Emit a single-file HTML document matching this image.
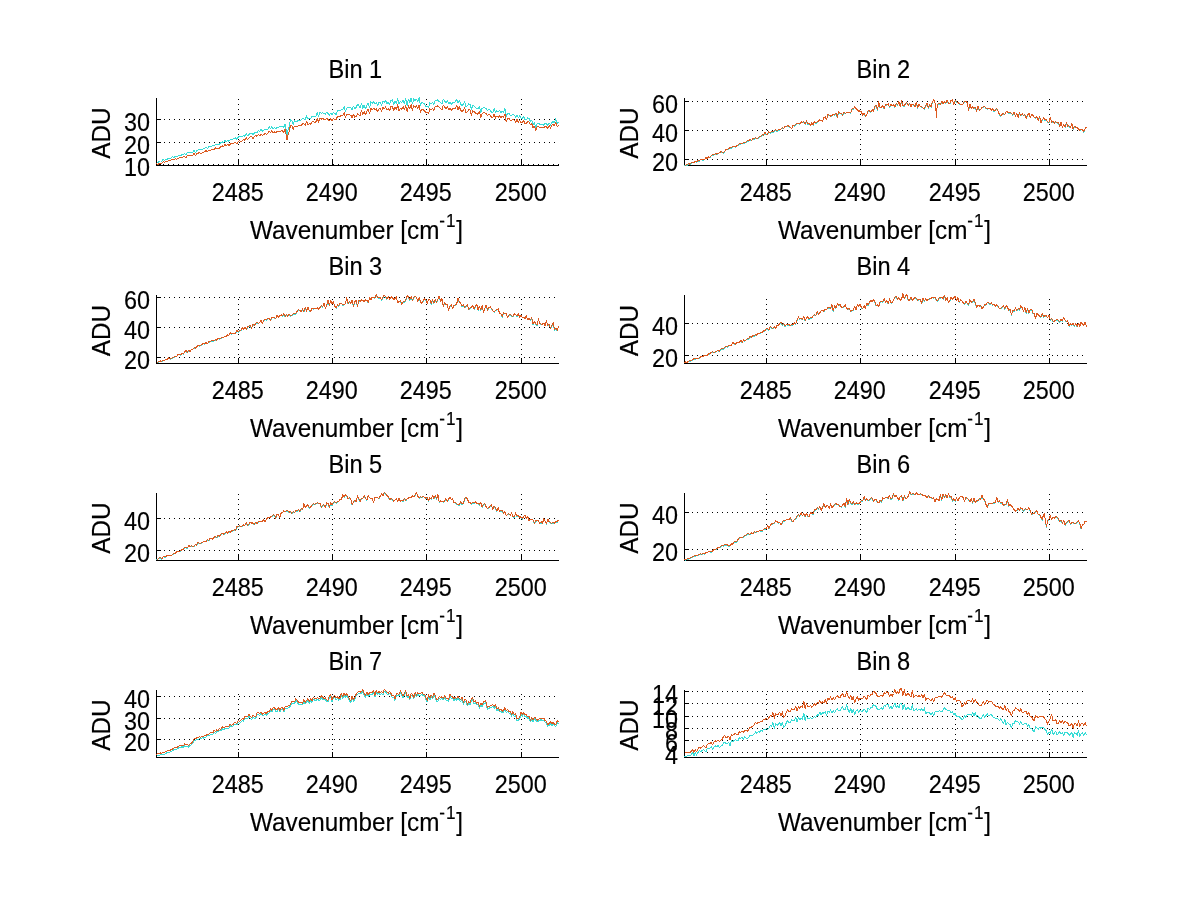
<!DOCTYPE html>
<html lang="en"><head><meta charset="utf-8"><title>Bin spectra</title>
<style>html,body{margin:0;padding:0;background:#fff}svg{display:block}text{font-family:"Liberation Sans",Arial,Helvetica,sans-serif;fill:#000}.t{font-size:24px;stroke:#000;stroke-width:0.15px}.ax{stroke:#000;stroke-width:1;fill:none;shape-rendering:crispEdges}.gr{stroke:#000;stroke-width:1;fill:none;stroke-dasharray:1 4;shape-rendering:crispEdges}.c{fill:none;stroke-width:1;stroke-linejoin:round;shape-rendering:crispEdges}</style></head><body>
<svg width="1200" height="901" viewBox="0 0 1200 901">
<rect x="0" y="0" width="1200" height="901" fill="#fff"/>
<g id="bin1">
<line class="gr" x1="238.5" y1="99" x2="238.5" y2="165"/>
<line class="gr" x1="332.5" y1="99" x2="332.5" y2="165"/>
<line class="gr" x1="426.5" y1="99" x2="426.5" y2="165"/>
<line class="gr" x1="521.5" y1="99" x2="521.5" y2="165"/>
<line class="gr" x1="159" y1="119.5" x2="559" y2="119.5"/>
<line class="gr" x1="159" y1="142.5" x2="559" y2="142.5"/>
<line class="gr" x1="158" y1="164.5" x2="559" y2="164.5"/>
<path class="ax" d="M156.5 98 V166 M156 165.5 H559"/>
<path class="ax" d="M238.5 166 v-6 M332.5 166 v-6 M426.5 166 v-6 M521.5 166 v-6 M156 119.5 h5 M156 142.5 h5 M156 164.5 h5"/>
<path class="c" stroke="#38dcd6" d="M156.5 161.6 L157.8 162.6 L159.2 161.1 L160.5 161.0 L161.9 161.0 L163.2 159.3 L164.5 160.3 L165.9 159.5 L167.2 159.3 L168.6 158.1 L169.9 158.8 L171.2 157.8 L172.6 156.8 L173.9 157.5 L175.3 156.2 L176.6 156.7 L177.9 156.1 L179.3 155.2 L180.6 155.2 L182.0 154.9 L183.3 154.1 L184.6 153.9 L186.0 154.7 L187.3 152.7 L188.7 152.9 L190.0 152.1 L191.3 152.6 L192.7 152.4 L194.0 150.5 L195.4 152.6 L196.7 150.7 L198.0 150.2 L199.4 149.3 L200.7 149.9 L202.1 149.8 L203.4 148.8 L204.7 148.2 L206.1 147.3 L207.4 148.6 L208.8 146.7 L210.1 147.0 L211.4 146.3 L212.8 145.9 L214.1 145.8 L215.5 144.2 L216.8 144.9 L218.1 144.2 L219.5 144.2 L220.8 142.9 L222.2 141.8 L223.5 142.9 L224.8 140.4 L226.2 141.9 L227.5 140.1 L228.9 141.3 L230.2 140.1 L231.5 139.4 L232.9 139.2 L234.2 138.6 L235.6 138.0 L236.9 139.6 L238.2 137.2 L239.6 136.4 L240.9 137.1 L242.3 136.5 L243.6 135.1 L244.9 136.3 L246.3 133.5 L247.6 135.8 L249.0 134.4 L250.3 133.3 L251.6 133.1 L253.0 134.9 L254.3 133.2 L255.7 132.0 L257.0 132.4 L258.3 130.4 L259.7 131.7 L261.0 129.2 L262.4 131.1 L263.7 130.1 L265.0 129.2 L266.4 130.0 L267.7 129.6 L269.1 126.7 L270.4 128.8 L271.7 126.8 L273.1 128.5 L274.4 127.6 L275.8 128.9 L277.1 127.0 L278.4 127.2 L279.8 126.5 L281.1 126.1 L282.5 126.1 L283.8 127.6 L285.1 124.1 L287.0 134.6 L287.8 130.3 L289.2 126.1 L290.5 120.0 L291.8 120.6 L293.2 124.5 L294.5 121.0 L295.9 121.6 L297.2 121.1 L298.5 120.6 L299.9 120.2 L301.2 120.1 L302.6 118.1 L303.9 118.6 L305.2 120.0 L306.6 115.7 L307.9 118.9 L309.3 118.2 L310.6 118.7 L311.9 116.1 L313.3 116.0 L314.6 116.7 L316.0 116.1 L317.3 112.4 L318.6 116.7 L320.0 112.1 L321.3 113.4 L322.7 112.5 L324.0 113.6 L325.3 114.1 L326.7 112.3 L328.0 113.7 L329.4 115.1 L330.7 113.2 L332.0 115.0 L333.4 112.7 L334.7 113.6 L336.1 114.3 L337.4 110.8 L338.7 110.8 L340.1 110.6 L341.4 109.5 L342.8 109.8 L344.1 106.7 L345.4 111.3 L346.8 108.3 L348.1 107.4 L349.5 107.7 L350.8 107.6 L352.1 109.7 L353.5 106.2 L354.8 108.5 L356.2 107.2 L357.5 104.3 L358.8 105.4 L360.2 108.1 L361.5 103.8 L362.9 108.3 L364.2 105.0 L365.5 108.9 L366.9 105.2 L368.2 103.0 L369.6 107.8 L370.9 101.7 L372.2 103.3 L373.6 101.9 L374.9 103.6 L376.3 102.6 L377.6 105.6 L378.9 102.6 L380.3 102.5 L381.6 105.3 L383.0 100.7 L384.3 102.6 L385.6 100.5 L387.0 103.5 L388.3 102.4 L389.7 104.4 L391.0 100.2 L392.3 99.8 L393.7 104.5 L395.0 101.2 L396.4 103.5 L397.7 98.2 L399.0 104.2 L400.4 101.6 L401.7 102.8 L403.1 100.1 L404.4 103.5 L405.7 98.4 L407.1 105.4 L408.4 99.2 L409.8 102.2 L411.1 97.8 L412.4 103.9 L413.8 98.9 L415.1 100.6 L416.5 99.1 L417.8 101.6 L419.1 97.6 L420.5 105.5 L421.8 102.2 L423.2 103.0 L424.5 104.0 L425.8 106.7 L427.2 105.9 L428.5 107.4 L429.9 102.7 L431.2 103.8 L432.5 102.1 L433.9 104.4 L435.2 100.3 L436.6 101.0 L437.9 99.7 L439.2 101.7 L440.6 102.4 L441.9 104.2 L443.3 99.0 L444.6 100.8 L445.9 102.7 L447.3 100.3 L448.6 104.0 L450.0 102.5 L451.3 104.2 L452.6 102.8 L454.0 102.8 L455.3 102.0 L456.7 99.1 L458.0 103.4 L459.3 100.4 L460.7 104.1 L462.0 105.6 L463.4 104.2 L464.7 101.5 L466.0 107.2 L467.4 105.9 L468.7 103.8 L470.1 104.2 L471.4 109.8 L472.7 105.1 L474.1 105.9 L475.4 107.8 L476.8 108.6 L478.1 108.8 L479.4 106.7 L480.8 112.4 L482.1 108.2 L483.5 107.8 L484.8 107.7 L486.1 108.6 L487.5 110.6 L488.8 109.2 L490.2 110.0 L491.5 112.2 L492.8 112.4 L494.2 108.7 L495.5 113.0 L496.9 110.8 L498.2 112.0 L499.5 110.5 L500.9 112.4 L502.2 111.3 L503.6 112.3 L504.9 108.6 L506.2 116.5 L507.6 113.2 L508.9 113.0 L510.3 115.7 L511.6 115.5 L512.9 114.1 L514.3 115.0 L515.6 117.3 L517.0 114.8 L518.3 118.0 L519.6 115.7 L521.0 118.0 L522.3 118.7 L523.7 116.3 L525.0 120.0 L526.3 119.7 L527.7 117.7 L529.0 118.5 L530.4 121.2 L531.7 120.2 L533.0 124.7 L534.4 122.9 L535.7 127.8 L537.1 123.8 L538.4 123.3 L539.7 124.2 L541.1 124.2 L542.4 124.2 L543.8 125.1 L545.1 123.3 L546.4 123.7 L547.8 125.7 L549.1 122.8 L550.5 125.2 L551.8 122.3 L553.1 121.7 L554.5 122.7 L555.8 118.9 L557.2 123.9 L558.5 121.7"/>
<path class="c" stroke="#dc5a20" d="M156.5 163.5 L157.8 164.6 L159.2 163.1 L160.5 163.1 L161.9 163.1 L163.2 161.5 L164.5 162.4 L165.9 161.7 L167.2 161.6 L168.6 160.4 L169.9 161.1 L171.2 160.1 L172.6 159.2 L173.9 159.9 L175.3 158.7 L176.6 159.2 L177.9 158.7 L179.3 157.8 L180.6 157.8 L182.0 157.6 L183.3 156.8 L184.6 156.6 L186.0 157.5 L187.3 155.5 L188.7 155.8 L190.0 155.1 L191.3 155.6 L192.7 155.4 L194.0 153.6 L195.4 155.7 L196.7 153.8 L198.0 153.4 L199.4 152.5 L200.7 153.2 L202.1 153.1 L203.4 152.1 L204.7 151.6 L206.1 150.7 L207.4 152.0 L208.8 150.2 L210.1 150.5 L211.4 149.9 L212.8 149.6 L214.1 149.5 L215.5 147.9 L216.8 148.7 L218.1 148.0 L219.5 148.0 L220.8 146.8 L222.2 145.7 L223.5 146.8 L224.8 144.5 L226.2 145.9 L227.5 144.2 L228.9 145.4 L230.2 144.2 L231.5 143.6 L232.9 143.4 L234.2 142.9 L235.6 142.4 L236.9 143.9 L238.2 141.6 L239.6 140.8 L240.9 141.4 L242.3 140.7 L243.6 139.3 L244.9 140.3 L246.3 137.5 L247.6 139.6 L249.0 138.2 L250.3 137.0 L251.6 136.8 L253.0 138.5 L254.3 136.8 L255.7 135.7 L257.0 136.2 L258.3 134.4 L259.7 135.9 L261.0 133.7 L262.4 135.7 L263.7 134.6 L265.0 133.6 L266.4 134.3 L267.7 133.8 L269.1 130.9 L270.4 132.9 L271.7 130.9 L273.1 132.5 L274.4 131.7 L275.8 133.1 L277.1 131.5 L278.4 131.8 L279.8 131.2 L281.1 130.9 L282.5 131.0 L283.8 132.7 L285.1 129.3 L287.0 139.9 L287.8 136.1 L289.2 131.5 L290.5 125.1 L291.8 125.7 L293.2 129.5 L294.5 126.2 L295.9 126.9 L297.2 126.4 L298.5 125.9 L299.9 125.6 L301.2 125.5 L302.6 123.6 L303.9 124.1 L305.2 125.5 L306.6 121.4 L307.9 124.5 L309.3 123.9 L310.6 124.3 L311.9 121.9 L313.3 121.7 L314.6 122.4 L316.0 121.8 L317.3 118.2 L318.6 122.4 L320.0 117.9 L321.3 119.2 L322.7 118.3 L324.0 119.3 L325.3 119.8 L326.7 118.1 L328.0 119.4 L329.4 120.7 L330.7 118.9 L332.0 120.7 L333.4 118.4 L334.7 119.3 L336.1 119.9 L337.4 116.6 L338.7 116.6 L340.1 116.4 L341.4 115.3 L342.8 115.6 L344.1 112.6 L345.4 117.4 L346.8 114.8 L348.1 114.3 L349.5 114.9 L350.8 115.2 L352.1 117.6 L353.5 114.5 L354.8 117.1 L356.2 116.3 L357.5 113.8 L358.8 114.6 L360.2 115.8 L361.5 110.2 L362.9 114.4 L364.2 111.2 L365.5 114.9 L366.9 111.4 L368.2 109.3 L369.6 113.9 L370.9 108.0 L372.2 109.6 L373.6 108.1 L374.9 109.8 L376.3 108.9 L377.6 111.7 L378.9 108.8 L380.3 108.7 L381.6 111.4 L383.0 107.0 L384.3 108.8 L385.6 106.8 L387.0 109.7 L388.3 108.7 L389.7 110.6 L391.0 106.6 L392.3 106.3 L393.7 110.8 L395.0 107.6 L396.4 109.9 L397.7 104.8 L399.0 110.6 L400.4 108.1 L401.7 109.2 L403.1 106.7 L404.4 110.0 L405.7 105.1 L407.1 111.9 L408.4 105.9 L409.8 108.8 L411.1 104.6 L412.4 110.5 L413.8 105.7 L415.1 107.4 L416.5 105.9 L417.8 108.3 L419.1 105.1 L420.5 112.6 L421.8 109.2 L423.2 109.7 L424.5 110.6 L425.8 112.9 L427.2 112.1 L428.5 113.4 L429.9 108.8 L431.2 109.8 L432.5 108.1 L433.9 110.2 L435.2 106.2 L436.6 106.9 L437.9 105.6 L439.2 107.6 L440.6 108.2 L441.9 110.1 L443.3 105.1 L444.6 106.8 L445.9 108.7 L447.3 106.4 L448.6 110.0 L450.0 108.5 L451.3 110.2 L452.6 108.9 L454.0 109.0 L455.3 108.1 L456.7 105.4 L458.0 109.6 L459.3 106.7 L460.7 110.2 L462.0 111.6 L463.4 110.2 L464.7 107.5 L466.0 113.0 L467.4 111.7 L468.7 109.6 L470.1 109.9 L471.4 115.3 L472.7 110.7 L474.1 111.4 L475.4 113.1 L476.8 113.9 L478.1 114.1 L479.4 112.0 L480.8 117.4 L482.1 113.4 L483.5 112.9 L484.8 112.9 L486.1 113.8 L487.5 115.8 L488.8 114.4 L490.2 115.2 L491.5 117.3 L492.8 117.5 L494.2 113.9 L495.5 118.1 L496.9 115.9 L498.2 117.2 L499.5 115.7 L500.9 117.5 L502.2 116.5 L503.6 117.4 L504.9 113.9 L506.2 121.6 L507.6 118.4 L508.9 118.2 L510.3 120.9 L511.6 120.7 L512.9 119.3 L514.3 120.1 L515.6 122.2 L517.0 119.6 L518.3 122.6 L519.6 120.3 L521.0 122.4 L522.3 122.9 L523.7 120.4 L525.0 123.8 L526.3 123.4 L527.7 121.4 L529.0 122.0 L530.4 124.5 L531.7 123.4 L533.0 127.9 L534.4 126.1 L535.7 130.9 L537.1 127.0 L538.4 126.6 L539.7 127.5 L541.1 127.6 L542.4 127.2 L543.8 127.8 L545.1 126.0 L546.4 126.5 L547.8 128.5 L549.1 125.7 L550.5 128.1 L551.8 125.2 L553.1 124.8 L554.5 125.8 L555.8 122.0 L557.2 127.0 L558.5 124.9"/>
<text class="t" text-anchor="middle" transform="translate(237.70 201.00) scale(0.975 1.060)">2485</text>
<text class="t" text-anchor="middle" transform="translate(331.70 201.00) scale(0.975 1.060)">2490</text>
<text class="t" text-anchor="middle" transform="translate(425.70 201.00) scale(0.975 1.060)">2495</text>
<text class="t" text-anchor="middle" transform="translate(520.70 201.00) scale(0.975 1.060)">2500</text>
<text class="t" text-anchor="end" transform="translate(150.00 130.50) scale(0.975 1.060)">30</text>
<text class="t" text-anchor="end" transform="translate(150.00 153.50) scale(0.975 1.060)">20</text>
<text class="t" text-anchor="end" transform="translate(150.00 175.50) scale(0.975 1.060)">10</text>
<text class="t" text-anchor="middle" transform="translate(355.30 77.70) scale(0.985 1.060)">Bin 1</text>
<text class="t" text-anchor="middle" transform="translate(356.50 239.00) scale(1.012 1.060)">Wavenumber [cm<tspan font-size="17" dy="-11.5" dx="0 1">-1</tspan><tspan dy="11.5" dx="0.5">]</tspan></text>
<text class="t" text-anchor="middle" transform="translate(109.50 133.00) rotate(-90) scale(1.012 1.060)">ADU</text>
</g>
<g id="bin2">
<line class="gr" x1="766.5" y1="99" x2="766.5" y2="165"/>
<line class="gr" x1="860.5" y1="99" x2="860.5" y2="165"/>
<line class="gr" x1="955.5" y1="99" x2="955.5" y2="165"/>
<line class="gr" x1="1049.5" y1="99" x2="1049.5" y2="165"/>
<line class="gr" x1="687" y1="101.5" x2="1087" y2="101.5"/>
<line class="gr" x1="687" y1="130.5" x2="1087" y2="130.5"/>
<line class="gr" x1="687" y1="159.5" x2="1087" y2="159.5"/>
<path class="ax" d="M684.5 98 V166 M684 165.5 H1087"/>
<path class="ax" d="M766.5 166 v-6 M860.5 166 v-6 M955.5 166 v-6 M1049.5 166 v-6 M684 101.5 h5 M684 130.5 h5 M684 159.5 h5"/>
<path class="c" stroke="#38dcd6" d="M684.5 165.3 L685.8 165.5 L687.2 165.2 L688.5 163.9 L689.9 164.6 L691.2 163.4 L692.5 162.8 L693.9 163.0 L695.2 161.4 L696.6 162.3 L697.9 160.8 L699.2 161.2 L700.6 159.5 L701.9 160.0 L703.3 160.1 L704.6 159.8 L705.9 157.8 L707.3 159.0 L708.6 157.3 L710.0 157.5 L711.3 155.8 L712.6 155.3 L714.0 155.2 L715.3 154.0 L716.7 154.5 L718.0 154.2 L719.3 152.9 L720.7 152.3 L722.0 152.3 L723.4 153.1 L724.7 151.7 L726.0 150.0 L727.4 149.6 L728.7 148.9 L730.1 148.1 L731.4 148.4 L732.7 146.9 L734.1 146.7 L735.4 147.1 L736.8 146.3 L738.1 145.4 L739.4 144.0 L740.8 144.1 L742.1 143.7 L743.5 143.0 L744.8 143.3 L746.1 142.3 L747.5 141.2 L748.8 141.2 L750.2 139.8 L751.5 140.9 L752.8 138.9 L754.2 139.4 L755.5 138.2 L756.9 138.7 L758.2 138.4 L759.5 136.7 L760.9 136.6 L762.2 135.0 L763.6 135.8 L764.9 132.6 L766.2 135.0 L767.6 134.5 L768.9 132.1 L770.3 133.4 L771.6 131.7 L772.9 132.4 L774.3 131.4 L775.6 129.7 L777.0 131.6 L778.3 130.2 L779.6 130.1 L781.0 129.3 L782.3 128.1 L783.7 128.9 L785.0 126.3 L786.3 127.0 L787.7 125.8 L789.0 127.0 L790.4 127.7 L791.7 128.9 L793.0 125.4 L794.4 126.2 L795.7 124.4 L797.1 123.8 L798.4 123.6 L799.7 124.4 L801.1 122.1 L802.4 123.0 L803.8 122.1 L805.1 124.4 L806.4 121.3 L807.8 124.4 L809.1 123.9 L810.5 125.9 L811.8 123.3 L813.1 125.3 L814.5 121.7 L815.8 123.4 L817.2 122.5 L818.5 121.6 L819.8 120.2 L821.2 120.7 L822.5 121.4 L823.9 117.9 L825.2 117.3 L826.5 119.6 L827.9 115.0 L829.2 115.4 L830.6 116.6 L831.9 115.9 L833.2 114.5 L834.6 115.3 L835.9 113.3 L837.3 117.6 L838.6 112.5 L839.9 113.3 L841.3 113.6 L842.6 115.5 L844.0 112.4 L845.3 114.0 L846.6 112.5 L848.0 113.1 L849.3 112.7 L850.7 113.1 L852.0 109.1 L853.3 109.2 L854.7 107.0 L856.0 109.0 L857.4 110.2 L858.7 111.6 L860.0 111.3 L861.4 112.2 L862.7 115.6 L864.1 113.4 L865.4 116.6 L866.7 114.9 L868.1 111.0 L869.4 111.3 L870.8 112.4 L872.1 109.9 L873.4 111.9 L874.8 106.5 L876.1 106.0 L877.5 110.2 L878.8 102.0 L880.1 108.1 L881.5 107.6 L882.8 105.5 L884.2 108.9 L885.5 104.5 L886.8 105.5 L888.2 104.1 L889.5 107.3 L890.9 105.1 L892.2 105.7 L893.5 104.9 L894.9 107.6 L896.2 103.6 L897.6 105.3 L898.9 101.7 L900.2 107.0 L901.6 101.0 L902.9 106.1 L904.3 106.4 L905.6 103.5 L906.9 103.0 L908.3 105.9 L909.6 103.5 L911.0 107.0 L912.3 104.4 L913.6 105.2 L915.0 107.0 L916.3 103.1 L917.7 108.2 L919.0 104.3 L920.3 106.9 L921.7 107.2 L923.0 108.2 L924.4 109.4 L925.7 105.9 L927.0 103.8 L928.4 108.3 L929.7 104.6 L931.1 107.5 L932.4 102.1 L933.7 100.3 L935.6 104.4 L936.4 117.7 L937.2 105.4 L939.1 103.4 L940.4 104.7 L941.8 101.7 L943.1 104.2 L944.5 102.2 L945.8 103.5 L947.1 100.7 L948.5 103.6 L949.8 104.0 L951.2 100.5 L952.5 100.2 L953.8 104.8 L955.2 101.0 L956.5 102.0 L957.9 102.9 L959.2 104.1 L960.5 104.7 L961.9 105.0 L963.2 104.1 L964.6 101.6 L965.9 101.4 L967.2 103.1 L968.6 110.5 L969.9 104.4 L971.3 108.7 L972.6 107.2 L973.9 108.6 L975.3 107.5 L976.6 111.5 L978.0 106.7 L979.3 110.5 L980.6 109.7 L982.0 107.7 L983.3 107.3 L984.7 106.9 L986.0 108.3 L987.3 109.3 L988.7 108.9 L990.0 108.6 L991.4 111.0 L992.7 108.9 L994.0 111.4 L995.4 110.5 L996.7 108.7 L998.1 111.4 L999.4 115.0 L1000.7 116.1 L1002.1 114.9 L1003.4 113.8 L1004.8 114.9 L1006.1 111.9 L1007.4 112.2 L1008.8 113.4 L1010.1 113.0 L1011.5 113.6 L1012.8 115.2 L1014.1 112.4 L1015.5 116.6 L1016.8 113.5 L1018.2 117.7 L1019.5 113.0 L1020.8 116.0 L1022.2 114.2 L1023.5 115.7 L1024.9 115.2 L1026.2 118.7 L1027.5 115.6 L1028.9 113.6 L1030.2 117.9 L1031.6 115.1 L1032.9 115.6 L1034.2 117.5 L1035.6 118.4 L1036.9 116.7 L1038.3 120.8 L1039.6 116.5 L1040.9 123.2 L1042.3 120.1 L1043.6 118.4 L1045.0 120.4 L1046.3 120.2 L1047.6 122.2 L1049.0 122.6 L1050.3 117.9 L1051.7 122.8 L1053.0 121.6 L1054.3 123.5 L1055.7 121.9 L1057.0 123.2 L1058.4 122.8 L1059.7 127.0 L1061.0 122.8 L1062.4 127.7 L1063.7 124.5 L1065.1 127.4 L1066.4 123.0 L1067.7 126.5 L1069.1 126.2 L1070.4 128.0 L1071.8 124.0 L1073.1 129.6 L1074.4 126.5 L1075.8 127.9 L1077.1 127.7 L1078.5 129.5 L1079.8 130.9 L1081.1 129.5 L1082.5 130.1 L1083.8 132.3 L1085.2 128.5 L1086.5 127.3"/>
<path class="c" stroke="#dc5a20" d="M684.5 164.9 L685.8 165.1 L687.2 164.8 L688.5 163.5 L689.9 164.2 L691.2 163.0 L692.5 162.4 L693.9 162.6 L695.2 161.0 L696.6 161.9 L697.9 160.4 L699.2 160.8 L700.6 159.1 L701.9 159.6 L703.3 159.7 L704.6 159.4 L705.9 157.4 L707.3 158.6 L708.6 156.9 L710.0 157.1 L711.3 155.4 L712.6 154.9 L714.0 154.8 L715.3 153.6 L716.7 154.1 L718.0 153.8 L719.3 152.5 L720.7 151.9 L722.0 151.9 L723.4 152.7 L724.7 151.3 L726.0 149.6 L727.4 149.2 L728.7 148.5 L730.1 147.7 L731.4 148.0 L732.7 146.5 L734.1 146.3 L735.4 146.7 L736.8 145.9 L738.1 145.0 L739.4 143.6 L740.8 143.7 L742.1 143.3 L743.5 142.6 L744.8 142.9 L746.1 141.9 L747.5 140.8 L748.8 140.9 L750.2 139.4 L751.5 140.5 L752.8 138.5 L754.2 139.0 L755.5 137.8 L756.9 138.3 L758.2 138.0 L759.5 136.3 L760.9 136.2 L762.2 134.6 L763.6 135.4 L764.9 132.2 L766.2 134.6 L767.6 134.1 L768.9 131.7 L770.3 133.0 L771.6 131.3 L772.9 132.0 L774.3 131.0 L775.6 129.3 L777.0 131.2 L778.3 129.8 L779.6 129.7 L781.0 128.9 L782.3 127.7 L783.7 128.5 L785.0 125.9 L786.3 126.6 L787.7 125.4 L789.0 126.6 L790.4 127.3 L791.7 128.5 L793.0 125.0 L794.4 125.9 L795.7 124.0 L797.1 123.4 L798.4 123.2 L799.7 124.0 L801.1 121.7 L802.4 122.6 L803.8 121.7 L805.1 124.0 L806.4 120.9 L807.8 124.0 L809.1 123.5 L810.5 125.5 L811.8 122.8 L813.1 124.9 L814.5 121.3 L815.8 123.0 L817.2 122.1 L818.5 121.2 L819.8 119.8 L821.2 120.3 L822.5 121.0 L823.9 117.5 L825.2 116.9 L826.5 119.3 L827.9 114.6 L829.2 115.0 L830.6 116.2 L831.9 115.5 L833.2 114.1 L834.6 114.9 L835.9 112.9 L837.3 117.2 L838.6 112.0 L839.9 112.9 L841.3 113.2 L842.6 115.1 L844.0 112.0 L845.3 113.6 L846.6 112.1 L848.0 112.7 L849.3 112.3 L850.7 112.7 L852.0 108.7 L853.3 108.8 L854.7 106.6 L856.0 108.6 L857.4 109.8 L858.7 111.2 L860.0 110.9 L861.4 111.8 L862.7 115.2 L864.1 113.0 L865.4 116.2 L866.7 114.5 L868.1 110.6 L869.4 110.9 L870.8 112.0 L872.1 109.5 L873.4 111.5 L874.8 106.1 L876.1 105.6 L877.5 109.8 L878.8 101.6 L880.1 107.7 L881.5 107.2 L882.8 105.1 L884.2 108.5 L885.5 104.1 L886.8 105.1 L888.2 103.7 L889.5 106.9 L890.9 104.7 L892.2 105.3 L893.5 104.5 L894.9 107.2 L896.2 103.2 L897.6 104.9 L898.9 101.3 L900.2 106.6 L901.6 100.6 L902.9 105.7 L904.3 106.0 L905.6 103.1 L906.9 102.6 L908.3 105.5 L909.6 103.1 L911.0 106.6 L912.3 104.0 L913.6 104.8 L915.0 106.6 L916.3 102.7 L917.7 107.8 L919.0 103.9 L920.3 106.6 L921.7 106.8 L923.0 107.8 L924.4 109.0 L925.7 105.5 L927.0 103.4 L928.4 107.9 L929.7 104.2 L931.1 107.1 L932.4 101.7 L933.7 99.9 L935.6 104.0 L936.4 117.3 L937.2 105.0 L939.1 103.0 L940.4 104.3 L941.8 101.2 L943.1 103.8 L944.5 101.8 L945.8 103.1 L947.1 100.3 L948.5 103.2 L949.8 103.6 L951.2 100.1 L952.5 99.8 L953.8 104.4 L955.2 100.6 L956.5 101.6 L957.9 102.5 L959.2 103.7 L960.5 104.3 L961.9 104.6 L963.2 103.7 L964.6 101.2 L965.9 101.0 L967.2 102.7 L968.6 110.1 L969.9 104.0 L971.3 108.3 L972.6 106.8 L973.9 108.2 L975.3 107.1 L976.6 111.1 L978.0 106.3 L979.3 110.1 L980.6 109.3 L982.0 107.3 L983.3 106.9 L984.7 106.5 L986.0 107.9 L987.3 108.9 L988.7 108.5 L990.0 108.2 L991.4 110.6 L992.7 108.5 L994.0 111.0 L995.4 110.1 L996.7 108.3 L998.1 111.0 L999.4 114.6 L1000.7 115.7 L1002.1 114.5 L1003.4 113.4 L1004.8 114.5 L1006.1 111.5 L1007.4 111.8 L1008.8 113.0 L1010.1 112.6 L1011.5 113.2 L1012.8 114.8 L1014.1 112.0 L1015.5 116.2 L1016.8 113.1 L1018.2 117.3 L1019.5 112.6 L1020.8 115.6 L1022.2 113.8 L1023.5 115.3 L1024.9 114.8 L1026.2 118.4 L1027.5 115.2 L1028.9 113.2 L1030.2 117.5 L1031.6 114.7 L1032.9 115.2 L1034.2 117.1 L1035.6 118.0 L1036.9 116.3 L1038.3 120.4 L1039.6 116.1 L1040.9 122.8 L1042.3 119.7 L1043.6 118.0 L1045.0 120.0 L1046.3 119.8 L1047.6 121.8 L1049.0 122.2 L1050.3 117.4 L1051.7 122.4 L1053.0 121.2 L1054.3 123.1 L1055.7 121.5 L1057.0 122.8 L1058.4 122.4 L1059.7 126.6 L1061.0 122.4 L1062.4 127.3 L1063.7 124.1 L1065.1 127.0 L1066.4 122.6 L1067.7 126.1 L1069.1 125.8 L1070.4 127.6 L1071.8 123.6 L1073.1 129.2 L1074.4 126.1 L1075.8 127.5 L1077.1 127.3 L1078.5 129.1 L1079.8 130.5 L1081.1 129.1 L1082.5 129.7 L1083.8 132.0 L1085.2 128.1 L1086.5 126.9"/>
<text class="t" text-anchor="middle" transform="translate(765.70 201.00) scale(0.975 1.060)">2485</text>
<text class="t" text-anchor="middle" transform="translate(859.70 201.00) scale(0.975 1.060)">2490</text>
<text class="t" text-anchor="middle" transform="translate(954.70 201.00) scale(0.975 1.060)">2495</text>
<text class="t" text-anchor="middle" transform="translate(1048.70 201.00) scale(0.975 1.060)">2500</text>
<text class="t" text-anchor="end" transform="translate(678.00 112.50) scale(0.975 1.060)">60</text>
<text class="t" text-anchor="end" transform="translate(678.00 141.50) scale(0.975 1.060)">40</text>
<text class="t" text-anchor="end" transform="translate(678.00 170.50) scale(0.975 1.060)">20</text>
<text class="t" text-anchor="middle" transform="translate(883.30 77.70) scale(0.985 1.060)">Bin 2</text>
<text class="t" text-anchor="middle" transform="translate(884.50 239.00) scale(1.012 1.060)">Wavenumber [cm<tspan font-size="17" dy="-11.5" dx="0 1">-1</tspan><tspan dy="11.5" dx="0.5">]</tspan></text>
<text class="t" text-anchor="middle" transform="translate(637.50 133.00) rotate(-90) scale(1.012 1.060)">ADU</text>
</g>
<g id="bin3">
<line class="gr" x1="238.5" y1="299" x2="238.5" y2="363"/>
<line class="gr" x1="332.5" y1="299" x2="332.5" y2="363"/>
<line class="gr" x1="426.5" y1="299" x2="426.5" y2="363"/>
<line class="gr" x1="521.5" y1="299" x2="521.5" y2="363"/>
<line class="gr" x1="159" y1="297.5" x2="559" y2="297.5"/>
<line class="gr" x1="159" y1="327.5" x2="559" y2="327.5"/>
<line class="gr" x1="159" y1="357.5" x2="559" y2="357.5"/>
<path class="ax" d="M156.5 295 V364 M156 363.5 H559"/>
<path class="ax" d="M238.5 364 v-6 M332.5 364 v-6 M426.5 364 v-6 M521.5 364 v-6 M156 297.5 h5 M156 327.5 h5 M156 357.5 h5"/>
<path class="c" stroke="#38dcd6" d="M156.5 362.5 L157.8 362.5 L159.2 361.9 L160.5 361.4 L161.9 361.6 L163.2 360.8 L164.5 360.6 L165.9 359.3 L167.2 359.7 L168.6 358.2 L169.9 359.1 L171.2 359.1 L172.6 358.0 L173.9 357.4 L175.3 357.0 L176.6 356.9 L177.9 355.1 L179.3 354.4 L180.6 355.2 L182.0 353.9 L183.3 354.1 L184.6 352.5 L186.0 351.0 L187.3 352.7 L188.7 350.7 L190.0 351.9 L191.3 349.7 L192.7 349.5 L194.0 348.3 L195.4 348.5 L196.7 347.1 L198.0 345.8 L199.4 346.2 L200.7 345.4 L202.1 345.0 L203.4 343.5 L204.7 344.1 L206.1 343.1 L207.4 344.0 L208.8 342.0 L210.1 342.1 L211.4 341.3 L212.8 341.2 L214.1 341.0 L215.5 340.1 L216.8 340.5 L218.1 338.5 L219.5 339.4 L220.8 338.7 L222.2 337.6 L223.5 337.7 L224.8 336.6 L226.2 336.8 L227.5 335.1 L228.9 335.6 L230.2 332.8 L231.5 334.3 L232.9 333.5 L234.2 333.9 L235.6 333.5 L236.9 330.8 L238.2 332.5 L239.6 330.7 L240.9 330.7 L242.3 328.3 L243.6 329.5 L244.9 327.8 L246.3 329.7 L247.6 327.3 L249.0 326.3 L250.3 326.1 L251.6 328.5 L253.0 324.4 L254.3 325.8 L255.7 324.0 L257.0 322.6 L258.3 323.7 L259.7 322.7 L261.0 320.7 L262.4 323.8 L263.7 320.6 L265.0 319.6 L266.4 320.4 L267.7 318.9 L269.1 318.9 L270.4 320.9 L271.7 317.8 L273.1 317.7 L274.4 318.3 L275.8 318.7 L277.1 315.8 L278.4 317.6 L279.8 316.1 L281.1 315.1 L282.5 316.2 L283.8 314.3 L285.1 316.9 L286.5 315.0 L287.8 316.6 L289.2 314.6 L290.5 316.2 L291.8 315.7 L293.2 314.1 L294.5 314.4 L295.9 313.8 L297.2 311.6 L298.5 310.1 L299.9 310.7 L301.2 311.9 L302.6 309.3 L303.9 311.9 L305.2 307.4 L306.6 311.5 L307.9 307.7 L309.3 310.9 L310.6 312.0 L311.9 308.7 L313.3 309.3 L314.6 308.5 L316.0 308.9 L317.3 308.2 L318.6 309.5 L320.0 307.8 L321.3 306.1 L322.7 307.1 L324.0 303.3 L325.3 308.5 L326.7 306.2 L328.0 300.7 L329.4 305.9 L330.7 300.6 L332.0 304.2 L333.4 302.3 L334.7 306.4 L336.1 308.4 L337.4 305.3 L338.7 306.1 L340.1 303.7 L341.4 303.4 L342.8 305.4 L344.1 304.9 L345.4 303.8 L346.8 298.1 L348.1 303.9 L349.5 301.6 L350.8 303.5 L352.1 300.8 L353.5 306.8 L354.8 301.8 L356.2 301.1 L357.5 307.0 L358.8 300.5 L360.2 301.6 L361.5 300.3 L362.9 300.8 L364.2 302.1 L365.5 300.0 L366.9 300.7 L368.2 302.8 L369.6 298.4 L370.9 300.1 L372.2 297.4 L373.6 297.5 L374.9 298.4 L376.3 295.1 L377.6 297.5 L378.9 298.3 L380.3 298.3 L381.6 300.2 L383.0 297.8 L384.3 295.4 L385.6 297.0 L387.0 299.4 L388.3 296.9 L389.7 299.7 L391.0 297.1 L392.3 298.4 L393.7 299.6 L395.0 299.3 L396.4 297.4 L397.7 302.9 L399.0 302.2 L400.4 300.9 L401.7 304.9 L403.1 302.4 L404.4 302.2 L405.7 300.5 L407.1 295.9 L408.4 297.5 L409.8 300.3 L411.1 296.8 L412.4 300.9 L413.8 297.8 L415.1 296.6 L416.5 297.5 L417.8 302.0 L419.1 297.9 L420.5 302.2 L421.8 303.6 L423.2 301.1 L424.5 299.4 L425.8 300.0 L427.2 303.8 L428.5 299.7 L429.9 299.9 L431.2 304.4 L432.5 299.7 L433.9 303.5 L435.2 299.9 L436.6 302.9 L437.9 299.4 L439.2 296.5 L440.6 301.7 L441.9 299.2 L443.3 306.7 L444.6 303.1 L445.9 304.9 L447.3 304.8 L448.6 310.6 L450.0 306.4 L451.3 305.2 L452.6 308.8 L454.0 305.6 L455.3 305.2 L456.7 304.4 L458.0 298.2 L459.3 302.7 L460.7 303.2 L462.0 306.6 L463.4 305.2 L464.7 307.8 L466.0 306.5 L467.4 304.8 L468.7 309.6 L470.1 308.2 L471.4 307.5 L472.7 306.0 L474.1 309.6 L475.4 306.7 L476.8 305.0 L478.1 310.4 L479.4 306.5 L480.8 310.2 L482.1 305.9 L483.5 312.5 L484.8 308.8 L486.1 305.7 L487.5 310.5 L488.8 307.8 L490.2 307.2 L491.5 308.9 L492.8 311.0 L494.2 312.3 L495.5 310.6 L496.9 309.9 L498.2 309.1 L499.5 313.5 L500.9 313.7 L502.2 317.2 L503.6 312.9 L504.9 313.8 L506.2 314.0 L507.6 317.5 L508.9 315.6 L510.3 314.5 L511.6 316.3 L512.9 316.6 L514.3 314.3 L515.6 314.8 L517.0 316.6 L518.3 313.9 L519.6 317.6 L521.0 315.5 L522.3 317.6 L523.7 317.4 L525.0 319.3 L526.3 316.2 L527.7 320.0 L529.0 319.1 L530.4 320.4 L531.7 318.2 L533.0 324.6 L534.4 321.5 L535.7 324.2 L537.1 325.5 L538.4 319.2 L539.7 323.7 L541.1 324.4 L542.4 324.5 L543.8 323.4 L545.1 326.0 L546.4 321.1 L547.8 325.8 L549.1 324.6 L550.5 328.8 L551.8 326.1 L553.1 323.2 L554.5 330.2 L555.8 328.6 L557.2 331.0 L558.5 326.3"/>
<path class="c" stroke="#dc5a20" d="M156.5 362.1 L157.8 362.1 L159.2 361.5 L160.5 361.0 L161.9 361.2 L163.2 360.4 L164.5 360.2 L165.9 358.9 L167.2 359.3 L168.6 357.8 L169.9 358.7 L171.2 358.7 L172.6 357.6 L173.9 357.0 L175.3 356.6 L176.6 356.5 L177.9 354.7 L179.3 354.0 L180.6 354.8 L182.0 353.5 L183.3 353.7 L184.6 352.1 L186.0 350.6 L187.3 352.3 L188.7 350.3 L190.0 351.5 L191.3 349.3 L192.7 349.1 L194.0 347.9 L195.4 348.1 L196.7 346.7 L198.0 345.4 L199.4 345.8 L200.7 345.0 L202.1 344.6 L203.4 343.1 L204.7 343.7 L206.1 342.7 L207.4 343.6 L208.8 341.6 L210.1 341.7 L211.4 340.9 L212.8 340.8 L214.1 340.6 L215.5 339.7 L216.8 340.1 L218.1 338.1 L219.5 339.0 L220.8 338.3 L222.2 337.2 L223.5 337.3 L224.8 336.2 L226.2 336.4 L227.5 334.7 L228.9 335.2 L230.2 332.4 L231.5 333.9 L232.9 333.1 L234.2 333.5 L235.6 333.1 L236.9 330.4 L238.2 332.1 L239.6 330.3 L240.9 330.3 L242.3 327.9 L243.6 329.1 L244.9 327.4 L246.3 329.3 L247.6 326.9 L249.0 325.9 L250.3 325.7 L251.6 328.1 L253.0 324.0 L254.3 325.4 L255.7 323.6 L257.0 322.2 L258.3 323.3 L259.7 322.3 L261.0 320.2 L262.4 323.4 L263.7 320.2 L265.0 319.2 L266.4 320.0 L267.7 318.5 L269.1 318.5 L270.4 320.5 L271.7 317.4 L273.1 317.3 L274.4 317.9 L275.8 318.3 L277.1 315.4 L278.4 317.2 L279.8 315.7 L281.1 314.7 L282.5 315.8 L283.8 313.9 L285.1 316.5 L286.5 314.6 L287.8 316.2 L289.2 314.2 L290.5 315.8 L291.8 315.3 L293.2 313.7 L294.5 314.0 L295.9 313.4 L297.2 311.2 L298.5 309.7 L299.9 310.3 L301.2 311.5 L302.6 308.9 L303.9 311.5 L305.2 307.0 L306.6 311.1 L307.9 307.3 L309.3 310.6 L310.6 311.6 L311.9 308.3 L313.3 308.9 L314.6 308.1 L316.0 308.5 L317.3 307.8 L318.6 309.1 L320.0 307.4 L321.3 305.7 L322.7 306.7 L324.0 302.9 L325.3 308.2 L326.7 305.8 L328.0 300.3 L329.4 305.5 L330.7 300.2 L332.0 303.8 L333.4 301.9 L334.7 306.0 L336.1 308.0 L337.4 304.9 L338.7 305.7 L340.1 303.3 L341.4 303.0 L342.8 305.0 L344.1 304.5 L345.4 303.5 L346.8 297.7 L348.1 303.5 L349.5 301.2 L350.8 303.1 L352.1 300.4 L353.5 306.4 L354.8 301.4 L356.2 300.7 L357.5 306.6 L358.8 300.1 L360.2 301.2 L361.5 299.9 L362.9 300.4 L364.2 301.7 L365.5 299.6 L366.9 300.3 L368.2 302.4 L369.6 298.0 L370.9 299.7 L372.2 297.0 L373.6 297.1 L374.9 298.0 L376.3 294.7 L377.6 297.1 L378.9 297.9 L380.3 297.9 L381.6 299.8 L383.0 297.4 L384.3 295.0 L385.6 296.6 L387.0 299.0 L388.3 296.5 L389.7 299.3 L391.0 296.7 L392.3 298.0 L393.7 299.2 L395.0 298.9 L396.4 297.0 L397.7 302.5 L399.0 301.8 L400.4 300.5 L401.7 304.5 L403.1 302.0 L404.4 301.8 L405.7 300.1 L407.1 295.5 L408.4 297.1 L409.8 299.9 L411.1 296.4 L412.4 300.5 L413.8 297.4 L415.1 296.2 L416.5 297.1 L417.8 301.6 L419.1 297.5 L420.5 301.8 L421.8 303.2 L423.2 300.7 L424.5 299.0 L425.8 299.6 L427.2 303.4 L428.5 299.3 L429.9 299.5 L431.2 304.0 L432.5 299.3 L433.9 303.1 L435.2 299.5 L436.6 302.5 L437.9 299.0 L439.2 296.1 L440.6 301.3 L441.9 298.8 L443.3 306.3 L444.6 302.7 L445.9 304.5 L447.3 304.4 L448.6 310.2 L450.0 306.0 L451.3 304.8 L452.6 308.4 L454.0 305.2 L455.3 304.8 L456.7 304.0 L458.0 297.8 L459.3 302.3 L460.7 302.8 L462.0 306.2 L463.4 304.8 L464.7 307.4 L466.0 306.1 L467.4 304.4 L468.7 309.2 L470.1 307.8 L471.4 307.1 L472.7 305.6 L474.1 309.2 L475.4 306.3 L476.8 304.6 L478.1 310.0 L479.4 306.1 L480.8 309.8 L482.1 305.5 L483.5 312.1 L484.8 308.4 L486.1 305.3 L487.5 310.1 L488.8 307.4 L490.2 306.8 L491.5 308.5 L492.8 310.6 L494.2 311.9 L495.5 310.2 L496.9 309.5 L498.2 308.7 L499.5 313.1 L500.9 313.3 L502.2 316.8 L503.6 312.5 L504.9 313.4 L506.2 313.6 L507.6 317.1 L508.9 315.2 L510.3 314.1 L511.6 315.9 L512.9 316.2 L514.3 313.9 L515.6 314.4 L517.0 316.2 L518.3 313.5 L519.6 317.2 L521.0 315.1 L522.3 317.2 L523.7 317.0 L525.0 318.9 L526.3 315.8 L527.7 319.6 L529.0 318.7 L530.4 320.0 L531.7 317.8 L533.0 324.2 L534.4 321.1 L535.7 323.8 L537.1 325.1 L538.4 318.8 L539.7 323.3 L541.1 324.0 L542.4 324.1 L543.8 323.0 L545.1 325.6 L546.4 320.7 L547.8 325.4 L549.1 324.2 L550.5 328.4 L551.8 325.7 L553.1 322.7 L554.5 329.8 L555.8 328.2 L557.2 330.6 L558.5 325.9"/>
<text class="t" text-anchor="middle" transform="translate(237.70 399.00) scale(0.975 1.060)">2485</text>
<text class="t" text-anchor="middle" transform="translate(331.70 399.00) scale(0.975 1.060)">2490</text>
<text class="t" text-anchor="middle" transform="translate(425.70 399.00) scale(0.975 1.060)">2495</text>
<text class="t" text-anchor="middle" transform="translate(520.70 399.00) scale(0.975 1.060)">2500</text>
<text class="t" text-anchor="end" transform="translate(150.00 308.50) scale(0.975 1.060)">60</text>
<text class="t" text-anchor="end" transform="translate(150.00 338.50) scale(0.975 1.060)">40</text>
<text class="t" text-anchor="end" transform="translate(150.00 368.50) scale(0.975 1.060)">20</text>
<text class="t" text-anchor="middle" transform="translate(355.30 274.70) scale(0.985 1.060)">Bin 3</text>
<text class="t" text-anchor="middle" transform="translate(356.50 437.00) scale(1.012 1.060)">Wavenumber [cm<tspan font-size="17" dy="-11.5" dx="0 1">-1</tspan><tspan dy="11.5" dx="0.5">]</tspan></text>
<text class="t" text-anchor="middle" transform="translate(109.50 330.50) rotate(-90) scale(1.012 1.060)">ADU</text>
</g>
<g id="bin4">
<line class="gr" x1="766.5" y1="299" x2="766.5" y2="363"/>
<line class="gr" x1="860.5" y1="299" x2="860.5" y2="363"/>
<line class="gr" x1="955.5" y1="299" x2="955.5" y2="363"/>
<line class="gr" x1="1049.5" y1="299" x2="1049.5" y2="363"/>
<line class="gr" x1="687" y1="323.5" x2="1087" y2="323.5"/>
<line class="gr" x1="687" y1="355.5" x2="1087" y2="355.5"/>
<path class="ax" d="M684.5 295 V364 M684 363.5 H1087"/>
<path class="ax" d="M766.5 364 v-6 M860.5 364 v-6 M955.5 364 v-6 M1049.5 364 v-6 M684 323.5 h5 M684 355.5 h5"/>
<path class="c" stroke="#38dcd6" d="M684.5 363.3 L685.8 362.2 L687.2 362.9 L688.5 361.6 L689.9 361.2 L691.2 360.9 L692.5 360.3 L693.9 359.1 L695.2 359.4 L696.6 358.6 L697.9 359.0 L699.2 358.4 L700.6 357.2 L701.9 356.7 L703.3 356.7 L704.6 355.6 L705.9 356.0 L707.3 355.9 L708.6 353.9 L710.0 354.1 L711.3 352.5 L712.6 352.3 L714.0 352.8 L715.3 352.1 L716.7 351.5 L718.0 350.3 L719.3 351.6 L720.7 349.4 L722.0 349.3 L723.4 349.4 L724.7 347.7 L726.0 346.8 L727.4 347.1 L728.7 345.8 L730.1 345.6 L731.4 345.7 L732.7 342.8 L734.1 344.1 L735.4 344.6 L736.8 343.0 L738.1 342.8 L739.4 343.0 L740.8 340.5 L742.1 342.7 L743.5 340.3 L744.8 341.2 L746.1 340.2 L747.5 338.9 L748.8 339.1 L750.2 336.7 L751.5 337.9 L752.8 335.6 L754.2 336.4 L755.5 335.1 L756.9 335.5 L758.2 333.6 L759.5 333.9 L760.9 332.6 L762.2 333.0 L763.6 331.2 L764.9 331.1 L766.2 329.0 L767.6 329.2 L768.9 330.3 L770.3 326.4 L771.6 328.3 L772.9 328.9 L774.3 327.0 L775.6 328.8 L777.0 325.7 L778.3 325.7 L779.6 324.2 L781.0 322.5 L782.3 325.3 L783.7 323.6 L785.0 326.6 L786.3 324.9 L787.7 325.2 L789.0 325.2 L790.4 325.6 L791.7 325.0 L793.0 325.2 L794.4 323.2 L795.7 324.3 L797.1 320.4 L798.4 317.3 L799.7 319.1 L801.1 318.9 L802.4 319.5 L803.8 316.6 L805.1 320.9 L806.4 318.5 L807.8 317.0 L809.1 319.6 L810.5 318.1 L811.8 318.2 L813.1 315.9 L814.5 315.2 L815.8 315.6 L817.2 311.7 L818.5 314.6 L819.8 313.1 L821.2 311.0 L822.5 310.7 L823.9 311.9 L825.2 309.5 L826.5 309.7 L827.9 308.1 L829.2 308.0 L830.6 308.7 L831.9 305.1 L833.2 311.4 L834.6 305.9 L835.9 308.6 L837.3 304.1 L838.6 305.7 L839.9 304.6 L841.3 307.4 L842.6 307.4 L844.0 307.3 L845.3 305.0 L846.6 308.7 L848.0 309.7 L849.3 308.5 L850.7 311.7 L852.0 310.7 L853.3 310.3 L854.7 306.6 L856.0 310.2 L857.4 304.6 L858.7 306.7 L860.0 304.2 L861.4 308.0 L862.7 308.8 L864.1 306.1 L865.4 308.7 L866.7 303.4 L868.1 305.6 L869.4 302.9 L870.8 300.8 L872.1 301.9 L873.4 300.4 L874.8 301.8 L876.1 305.9 L877.5 305.4 L878.8 306.6 L880.1 302.1 L881.5 301.9 L882.8 302.2 L884.2 299.2 L885.5 302.6 L886.8 301.3 L888.2 303.9 L889.5 299.4 L890.9 303.2 L892.2 303.0 L893.5 300.2 L894.9 297.5 L896.2 296.6 L897.6 299.8 L898.9 298.0 L900.2 300.6 L901.6 299.7 L902.9 294.2 L904.3 299.0 L905.6 296.5 L906.9 295.1 L908.3 300.9 L909.6 300.6 L911.0 297.7 L912.3 300.5 L913.6 299.5 L915.0 297.5 L916.3 298.6 L917.7 300.8 L919.0 300.0 L920.3 299.8 L921.7 303.9 L923.0 298.6 L924.4 301.1 L925.7 299.1 L927.0 300.8 L928.4 299.5 L929.7 299.3 L931.1 298.7 L932.4 297.7 L933.7 298.1 L935.1 297.7 L936.4 300.7 L937.8 301.2 L939.1 298.0 L940.4 298.3 L941.8 297.4 L943.1 299.4 L944.5 295.7 L945.8 300.7 L947.1 298.1 L948.5 303.0 L949.8 301.2 L951.2 297.4 L952.5 299.6 L953.8 298.3 L955.2 296.9 L956.5 300.8 L957.9 298.2 L959.2 302.5 L960.5 300.4 L961.9 300.9 L963.2 303.1 L964.6 304.3 L965.9 301.9 L967.2 303.4 L968.6 305.1 L969.9 300.2 L971.3 302.5 L972.6 302.4 L973.9 299.7 L975.3 303.4 L976.6 307.6 L978.0 305.2 L979.3 306.5 L980.6 305.6 L982.0 309.2 L983.3 307.3 L984.7 305.3 L986.0 305.3 L987.3 302.4 L988.7 303.1 L990.0 304.3 L991.4 303.2 L992.7 305.2 L994.0 304.7 L995.4 306.5 L996.7 305.3 L998.1 306.5 L999.4 308.8 L1000.7 308.8 L1002.1 307.2 L1003.4 306.1 L1004.8 309.1 L1006.1 305.9 L1007.4 307.4 L1008.8 310.9 L1010.1 309.6 L1011.5 315.3 L1012.8 310.4 L1014.1 311.4 L1015.5 308.2 L1016.8 311.0 L1018.2 308.8 L1019.5 310.0 L1020.8 306.3 L1022.2 308.0 L1023.5 311.4 L1024.9 307.9 L1026.2 313.4 L1027.5 309.2 L1028.9 313.5 L1030.2 310.2 L1031.6 309.7 L1032.9 313.5 L1034.2 314.1 L1035.6 318.9 L1036.9 313.3 L1038.3 315.1 L1039.6 316.5 L1040.9 317.4 L1042.3 313.5 L1043.6 317.0 L1045.0 316.0 L1046.3 316.1 L1047.6 317.9 L1049.0 315.6 L1050.3 320.4 L1051.7 319.0 L1053.0 321.7 L1054.3 321.7 L1055.7 320.5 L1057.0 319.6 L1058.4 320.7 L1059.7 322.3 L1061.0 320.0 L1062.4 321.1 L1063.7 317.4 L1065.1 320.5 L1066.4 321.8 L1067.7 321.0 L1069.1 326.3 L1070.4 324.3 L1071.8 325.4 L1073.1 324.0 L1074.4 326.3 L1075.8 323.6 L1077.1 327.0 L1078.5 323.7 L1079.8 326.7 L1081.1 322.4 L1082.5 324.5 L1083.8 325.6 L1085.2 322.4 L1086.5 327.2"/>
<path class="c" stroke="#dc5a20" d="M684.5 362.9 L685.8 361.8 L687.2 362.5 L688.5 361.2 L689.9 360.8 L691.2 360.5 L692.5 359.9 L693.9 358.7 L695.2 359.0 L696.6 358.2 L697.9 358.6 L699.2 358.0 L700.6 356.8 L701.9 356.3 L703.3 356.3 L704.6 355.2 L705.9 355.6 L707.3 355.5 L708.6 353.5 L710.0 353.7 L711.3 352.1 L712.6 351.9 L714.0 352.4 L715.3 351.7 L716.7 351.1 L718.0 349.9 L719.3 351.2 L720.7 349.0 L722.0 348.9 L723.4 349.0 L724.7 347.3 L726.0 346.4 L727.4 346.7 L728.7 345.4 L730.1 345.2 L731.4 345.4 L732.7 342.4 L734.1 343.7 L735.4 344.2 L736.8 342.6 L738.1 342.4 L739.4 342.6 L740.8 340.1 L742.1 342.3 L743.5 339.9 L744.8 340.8 L746.1 339.8 L747.5 338.5 L748.8 338.7 L750.2 336.3 L751.5 337.5 L752.8 335.2 L754.2 336.0 L755.5 334.7 L756.9 335.1 L758.2 333.2 L759.5 333.5 L760.9 332.2 L762.2 332.6 L763.6 330.8 L764.9 330.7 L766.2 328.6 L767.6 328.8 L768.9 329.9 L770.3 326.0 L771.6 327.9 L772.9 328.5 L774.3 326.6 L775.6 328.4 L777.0 325.3 L778.3 325.3 L779.6 323.8 L781.0 322.1 L782.3 324.9 L783.7 323.2 L785.0 326.2 L786.3 324.5 L787.7 324.8 L789.0 324.9 L790.4 325.2 L791.7 324.6 L793.0 324.8 L794.4 322.8 L795.7 323.9 L797.1 320.0 L798.4 316.9 L799.7 318.7 L801.1 318.5 L802.4 319.1 L803.8 316.2 L805.1 320.5 L806.4 318.1 L807.8 316.5 L809.1 319.2 L810.5 317.7 L811.8 317.8 L813.1 315.5 L814.5 314.8 L815.8 315.3 L817.2 311.3 L818.5 314.2 L819.8 312.7 L821.2 310.6 L822.5 310.3 L823.9 311.5 L825.2 309.1 L826.5 309.3 L827.9 307.7 L829.2 307.6 L830.6 308.3 L831.9 304.7 L833.2 311.0 L834.6 305.5 L835.9 308.2 L837.3 303.7 L838.6 305.3 L839.9 304.2 L841.3 307.0 L842.6 307.0 L844.0 306.9 L845.3 304.6 L846.6 308.3 L848.0 309.3 L849.3 308.1 L850.7 311.3 L852.0 310.3 L853.3 309.9 L854.7 306.2 L856.0 309.8 L857.4 304.2 L858.7 306.3 L860.0 303.8 L861.4 307.6 L862.7 308.4 L864.1 305.7 L865.4 308.3 L866.7 303.0 L868.1 305.2 L869.4 302.5 L870.8 300.4 L872.1 301.5 L873.4 300.0 L874.8 301.4 L876.1 305.5 L877.5 305.0 L878.8 306.2 L880.1 301.7 L881.5 301.5 L882.8 301.8 L884.2 298.8 L885.5 302.2 L886.8 300.9 L888.2 303.5 L889.5 299.0 L890.9 302.8 L892.2 302.6 L893.5 299.8 L894.9 297.1 L896.2 296.2 L897.6 299.4 L898.9 297.6 L900.2 300.2 L901.6 299.3 L902.9 293.8 L904.3 298.6 L905.6 296.1 L906.9 294.7 L908.3 300.5 L909.6 300.2 L911.0 297.3 L912.3 300.1 L913.6 299.1 L915.0 297.1 L916.3 298.2 L917.7 300.4 L919.0 299.6 L920.3 299.4 L921.7 303.5 L923.0 298.2 L924.4 300.7 L925.7 298.7 L927.0 300.4 L928.4 299.1 L929.7 298.9 L931.1 298.3 L932.4 297.3 L933.7 297.7 L935.1 297.3 L936.4 300.3 L937.8 300.8 L939.1 297.6 L940.4 297.9 L941.8 297.0 L943.1 299.0 L944.5 295.3 L945.8 300.3 L947.1 297.7 L948.5 302.6 L949.8 300.8 L951.2 297.0 L952.5 299.2 L953.8 297.9 L955.2 296.5 L956.5 300.4 L957.9 297.8 L959.2 302.1 L960.5 300.0 L961.9 300.5 L963.2 302.7 L964.6 303.9 L965.9 301.5 L967.2 303.0 L968.6 304.7 L969.9 299.8 L971.3 302.1 L972.6 302.0 L973.9 299.3 L975.3 303.0 L976.6 307.2 L978.0 304.8 L979.3 306.1 L980.6 305.2 L982.0 308.9 L983.3 306.9 L984.7 304.9 L986.0 304.9 L987.3 302.0 L988.7 302.7 L990.0 303.9 L991.4 302.8 L992.7 304.8 L994.0 304.3 L995.4 306.1 L996.7 304.9 L998.1 306.1 L999.4 308.4 L1000.7 308.4 L1002.1 306.8 L1003.4 305.7 L1004.8 308.7 L1006.1 305.5 L1007.4 307.0 L1008.8 310.5 L1010.1 309.2 L1011.5 314.9 L1012.8 310.0 L1014.1 311.0 L1015.5 307.8 L1016.8 310.6 L1018.2 308.4 L1019.5 309.6 L1020.8 305.9 L1022.2 307.6 L1023.5 311.0 L1024.9 307.5 L1026.2 313.0 L1027.5 308.7 L1028.9 313.1 L1030.2 309.7 L1031.6 309.2 L1032.9 313.1 L1034.2 313.7 L1035.6 318.5 L1036.9 312.9 L1038.3 314.7 L1039.6 316.1 L1040.9 317.0 L1042.3 313.1 L1043.6 316.6 L1045.0 315.6 L1046.3 315.7 L1047.6 317.5 L1049.0 315.2 L1050.3 320.0 L1051.7 318.6 L1053.0 321.3 L1054.3 321.3 L1055.7 320.1 L1057.0 319.2 L1058.4 320.3 L1059.7 321.9 L1061.0 319.6 L1062.4 320.7 L1063.7 317.0 L1065.1 320.1 L1066.4 321.4 L1067.7 320.6 L1069.1 326.0 L1070.4 323.9 L1071.8 325.0 L1073.1 323.6 L1074.4 325.9 L1075.8 323.2 L1077.1 326.6 L1078.5 323.3 L1079.8 326.3 L1081.1 322.0 L1082.5 324.1 L1083.8 325.2 L1085.2 322.0 L1086.5 326.8"/>
<text class="t" text-anchor="middle" transform="translate(765.70 399.00) scale(0.975 1.060)">2485</text>
<text class="t" text-anchor="middle" transform="translate(859.70 399.00) scale(0.975 1.060)">2490</text>
<text class="t" text-anchor="middle" transform="translate(954.70 399.00) scale(0.975 1.060)">2495</text>
<text class="t" text-anchor="middle" transform="translate(1048.70 399.00) scale(0.975 1.060)">2500</text>
<text class="t" text-anchor="end" transform="translate(678.00 334.50) scale(0.975 1.060)">40</text>
<text class="t" text-anchor="end" transform="translate(678.00 366.50) scale(0.975 1.060)">20</text>
<text class="t" text-anchor="middle" transform="translate(883.30 274.70) scale(0.985 1.060)">Bin 4</text>
<text class="t" text-anchor="middle" transform="translate(884.50 437.00) scale(1.012 1.060)">Wavenumber [cm<tspan font-size="17" dy="-11.5" dx="0 1">-1</tspan><tspan dy="11.5" dx="0.5">]</tspan></text>
<text class="t" text-anchor="middle" transform="translate(637.50 330.50) rotate(-90) scale(1.012 1.060)">ADU</text>
</g>
<g id="bin5">
<line class="gr" x1="238.5" y1="494" x2="238.5" y2="560"/>
<line class="gr" x1="332.5" y1="494" x2="332.5" y2="560"/>
<line class="gr" x1="426.5" y1="494" x2="426.5" y2="560"/>
<line class="gr" x1="521.5" y1="494" x2="521.5" y2="560"/>
<line class="gr" x1="159" y1="518.5" x2="559" y2="518.5"/>
<line class="gr" x1="159" y1="550.5" x2="559" y2="550.5"/>
<path class="ax" d="M156.5 493 V561 M156 560.5 H559"/>
<path class="ax" d="M238.5 561 v-6 M332.5 561 v-6 M426.5 561 v-6 M521.5 561 v-6 M156 518.5 h5 M156 550.5 h5"/>
<path class="c" stroke="#38dcd6" d="M156.5 559.6 L157.8 559.4 L159.2 558.2 L160.5 557.9 L161.9 559.2 L163.2 556.7 L164.5 557.3 L165.9 557.1 L167.2 555.9 L168.6 555.7 L169.9 555.6 L171.2 555.9 L172.6 554.7 L173.9 553.4 L175.3 553.8 L176.6 552.3 L177.9 551.6 L179.3 551.5 L180.6 551.2 L182.0 550.0 L183.3 549.6 L184.6 547.9 L186.0 548.0 L187.3 548.3 L188.7 546.0 L190.0 546.7 L191.3 546.1 L192.7 546.5 L194.0 546.5 L195.4 544.6 L196.7 545.5 L198.0 542.5 L199.4 543.9 L200.7 543.7 L202.1 543.0 L203.4 541.9 L204.7 541.6 L206.1 542.2 L207.4 540.0 L208.8 540.8 L210.1 538.6 L211.4 538.6 L212.8 539.5 L214.1 537.5 L215.5 537.1 L216.8 537.7 L218.1 535.8 L219.5 536.8 L220.8 534.6 L222.2 533.6 L223.5 534.5 L224.8 533.8 L226.2 531.9 L227.5 533.8 L228.9 531.6 L230.2 532.8 L231.5 531.4 L232.9 530.9 L234.2 530.1 L235.6 530.9 L236.9 527.1 L238.2 527.1 L239.6 526.1 L240.9 526.7 L242.3 526.2 L243.6 525.3 L244.9 525.5 L246.3 523.2 L247.6 525.8 L249.0 524.6 L250.3 522.4 L251.6 523.6 L253.0 523.3 L254.3 524.6 L255.7 522.8 L257.0 523.8 L258.3 522.0 L259.7 521.4 L261.0 521.4 L262.4 521.8 L263.7 519.9 L265.0 522.2 L266.4 519.6 L267.7 517.9 L269.1 517.9 L270.4 517.5 L271.7 516.7 L273.1 515.3 L274.4 515.5 L275.8 518.5 L277.1 514.4 L278.4 514.9 L279.8 517.7 L281.1 513.6 L282.5 512.8 L283.8 511.2 L285.1 512.0 L286.5 511.0 L287.8 511.3 L289.2 512.7 L290.5 511.7 L291.8 514.0 L293.2 512.0 L294.5 512.8 L295.9 511.1 L297.2 511.4 L298.5 509.7 L299.9 511.7 L301.2 509.0 L302.6 510.0 L303.9 503.8 L305.2 507.7 L306.6 506.3 L307.9 505.2 L309.3 508.1 L310.6 507.3 L311.9 505.9 L313.3 503.9 L314.6 504.7 L316.0 504.0 L317.3 503.2 L318.6 503.6 L320.0 503.6 L321.3 507.6 L322.7 505.4 L324.0 505.3 L325.3 507.6 L326.7 503.3 L328.0 503.8 L329.4 507.9 L330.7 503.1 L332.0 505.5 L333.4 503.1 L334.7 502.1 L336.1 503.3 L337.4 502.0 L338.7 501.7 L340.1 499.7 L341.4 500.0 L342.8 495.3 L344.1 497.3 L345.4 495.3 L346.8 496.0 L348.1 499.1 L349.5 498.2 L350.8 499.4 L352.1 505.0 L353.5 502.5 L354.8 500.5 L356.2 501.9 L357.5 495.8 L358.8 499.2 L360.2 502.0 L361.5 498.5 L362.9 498.4 L364.2 496.2 L365.5 498.7 L366.9 500.3 L368.2 496.0 L369.6 497.9 L370.9 499.1 L372.2 498.8 L373.6 502.7 L374.9 497.5 L376.3 497.5 L377.6 497.8 L378.9 498.9 L380.3 496.3 L381.6 494.2 L383.0 496.0 L384.3 493.0 L385.6 494.0 L387.0 495.9 L388.3 497.2 L389.7 500.0 L391.0 499.1 L392.3 499.6 L393.7 501.6 L395.0 500.3 L396.4 498.7 L397.7 501.7 L399.0 498.4 L400.4 501.9 L401.7 500.4 L403.1 501.3 L404.4 498.5 L405.7 501.0 L407.1 499.1 L408.4 498.4 L409.8 497.7 L411.1 498.2 L412.4 496.2 L413.8 497.0 L415.1 495.5 L416.5 492.6 L417.8 496.7 L419.1 498.2 L420.5 497.2 L421.8 497.5 L423.2 496.4 L424.5 497.7 L425.8 498.8 L427.2 497.7 L428.5 501.1 L429.9 498.2 L431.2 499.4 L432.5 495.9 L433.9 498.7 L435.2 495.6 L436.6 499.3 L437.9 494.8 L439.2 502.5 L440.6 501.3 L441.9 501.7 L443.3 502.3 L444.6 501.6 L445.9 498.9 L447.3 501.9 L448.6 499.6 L450.0 497.8 L451.3 499.6 L452.6 499.1 L454.0 503.1 L455.3 502.7 L456.7 504.3 L458.0 504.8 L459.3 505.4 L460.7 501.6 L462.0 504.4 L463.4 503.7 L464.7 499.1 L466.0 497.5 L467.4 499.2 L468.7 502.8 L470.1 502.3 L471.4 504.4 L472.7 502.5 L474.1 503.3 L475.4 501.9 L476.8 503.9 L478.1 503.4 L479.4 505.2 L480.8 502.4 L482.1 507.4 L483.5 504.5 L484.8 504.3 L486.1 507.2 L487.5 508.6 L488.8 508.1 L490.2 506.2 L491.5 505.1 L492.8 509.9 L494.2 506.5 L495.5 508.5 L496.9 511.5 L498.2 507.7 L499.5 511.5 L500.9 511.3 L502.2 511.0 L503.6 514.0 L504.9 511.7 L506.2 516.0 L507.6 514.7 L508.9 514.2 L510.3 515.5 L511.6 513.1 L512.9 516.9 L514.3 517.3 L515.6 513.3 L517.0 516.5 L518.3 516.0 L519.6 517.8 L521.0 517.2 L522.3 519.1 L523.7 516.7 L525.0 515.1 L526.3 518.7 L527.7 517.0 L529.0 521.1 L530.4 519.6 L531.7 519.5 L533.0 520.2 L534.4 523.8 L535.7 521.1 L537.1 521.1 L538.4 520.7 L539.7 523.9 L541.1 522.0 L542.4 524.0 L543.8 519.0 L545.1 521.3 L546.4 524.3 L547.8 519.4 L549.1 522.0 L550.5 522.9 L551.8 524.0 L553.1 522.3 L554.5 523.9 L555.8 521.4 L557.2 522.5 L558.5 520.0"/>
<path class="c" stroke="#dc5a20" d="M156.5 559.2 L157.8 559.0 L159.2 557.8 L160.5 557.5 L161.9 558.8 L163.2 556.3 L164.5 556.9 L165.9 556.7 L167.2 555.5 L168.6 555.3 L169.9 555.2 L171.2 555.5 L172.6 554.3 L173.9 553.0 L175.3 553.4 L176.6 551.9 L177.9 551.2 L179.3 551.1 L180.6 550.8 L182.0 549.6 L183.3 549.2 L184.6 547.5 L186.0 547.6 L187.3 547.9 L188.7 545.6 L190.0 546.3 L191.3 545.7 L192.7 546.1 L194.0 546.1 L195.4 544.2 L196.7 545.1 L198.0 542.1 L199.4 543.5 L200.7 543.3 L202.1 542.6 L203.4 541.5 L204.7 541.2 L206.1 541.8 L207.4 539.6 L208.8 540.4 L210.1 538.2 L211.4 538.2 L212.8 539.1 L214.1 537.1 L215.5 536.7 L216.8 537.3 L218.1 535.4 L219.5 536.4 L220.8 534.2 L222.2 533.2 L223.5 534.1 L224.8 533.4 L226.2 531.5 L227.5 533.4 L228.9 531.2 L230.2 532.4 L231.5 531.0 L232.9 530.5 L234.2 529.7 L235.6 530.5 L236.9 526.7 L238.2 526.7 L239.6 525.7 L240.9 526.3 L242.3 525.8 L243.6 524.9 L244.9 525.1 L246.3 522.7 L247.6 525.4 L249.0 524.2 L250.3 522.0 L251.6 523.2 L253.0 522.9 L254.3 524.2 L255.7 522.4 L257.0 523.4 L258.3 521.6 L259.7 521.0 L261.0 521.0 L262.4 521.4 L263.7 519.5 L265.0 521.8 L266.4 519.2 L267.7 517.5 L269.1 517.5 L270.4 517.1 L271.7 516.3 L273.1 514.9 L274.4 515.1 L275.8 518.1 L277.1 514.0 L278.4 514.5 L279.8 517.3 L281.1 513.2 L282.5 512.4 L283.8 510.8 L285.1 511.6 L286.5 510.6 L287.8 510.9 L289.2 512.3 L290.5 511.3 L291.8 513.6 L293.2 511.6 L294.5 512.4 L295.9 510.7 L297.2 511.0 L298.5 509.3 L299.9 511.3 L301.2 508.6 L302.6 509.6 L303.9 503.4 L305.2 507.3 L306.6 505.9 L307.9 504.8 L309.3 507.7 L310.6 506.9 L311.9 505.5 L313.3 503.5 L314.6 504.3 L316.0 503.6 L317.3 502.8 L318.6 503.2 L320.0 503.2 L321.3 507.2 L322.7 505.0 L324.0 504.9 L325.3 507.2 L326.7 502.9 L328.0 503.4 L329.4 507.5 L330.7 502.7 L332.0 505.1 L333.4 502.7 L334.7 501.7 L336.1 502.9 L337.4 501.6 L338.7 501.3 L340.1 499.3 L341.4 499.6 L342.8 494.9 L344.1 496.9 L345.4 494.9 L346.8 495.6 L348.1 498.7 L349.5 497.8 L350.8 499.0 L352.1 504.6 L353.5 502.1 L354.8 500.1 L356.2 501.5 L357.5 495.3 L358.8 498.8 L360.2 501.6 L361.5 498.1 L362.9 498.0 L364.2 495.8 L365.5 498.3 L366.9 499.9 L368.2 495.6 L369.6 497.5 L370.9 498.7 L372.2 498.4 L373.6 502.3 L374.9 497.1 L376.3 497.1 L377.6 497.4 L378.9 498.5 L380.3 495.9 L381.6 493.8 L383.0 495.6 L384.3 492.6 L385.6 493.6 L387.0 495.5 L388.3 496.8 L389.7 499.6 L391.0 498.7 L392.3 499.2 L393.7 501.2 L395.0 499.9 L396.4 498.3 L397.7 501.3 L399.0 498.0 L400.4 501.5 L401.7 500.0 L403.1 500.9 L404.4 498.1 L405.7 500.6 L407.1 498.7 L408.4 498.0 L409.8 497.3 L411.1 497.8 L412.4 495.8 L413.8 496.6 L415.1 495.1 L416.5 492.2 L417.8 496.3 L419.1 497.8 L420.5 496.8 L421.8 497.1 L423.2 495.9 L424.5 497.3 L425.8 498.4 L427.2 497.3 L428.5 500.7 L429.9 497.8 L431.2 499.0 L432.5 495.5 L433.9 498.3 L435.2 495.2 L436.6 498.9 L437.9 494.4 L439.2 502.1 L440.6 500.9 L441.9 501.3 L443.3 501.9 L444.6 501.2 L445.9 498.5 L447.3 501.5 L448.6 499.2 L450.0 497.4 L451.3 499.2 L452.6 498.7 L454.0 502.7 L455.3 502.3 L456.7 503.9 L458.0 504.4 L459.3 505.0 L460.7 501.2 L462.0 504.0 L463.4 503.3 L464.7 498.7 L466.0 497.1 L467.4 498.8 L468.7 502.4 L470.1 501.9 L471.4 504.0 L472.7 502.1 L474.1 502.9 L475.4 501.5 L476.8 503.5 L478.1 503.0 L479.4 504.8 L480.8 502.0 L482.1 507.0 L483.5 504.1 L484.8 503.9 L486.1 506.8 L487.5 508.2 L488.8 507.7 L490.2 505.8 L491.5 504.7 L492.8 509.5 L494.2 506.1 L495.5 508.1 L496.9 511.1 L498.2 507.3 L499.5 511.1 L500.9 510.9 L502.2 510.6 L503.6 513.6 L504.9 511.3 L506.2 515.6 L507.6 514.3 L508.9 513.8 L510.3 515.1 L511.6 512.7 L512.9 516.5 L514.3 516.9 L515.6 512.9 L517.0 516.1 L518.3 515.6 L519.6 517.5 L521.0 516.8 L522.3 518.7 L523.7 516.3 L525.0 514.7 L526.3 518.3 L527.7 516.6 L529.0 520.7 L530.4 519.2 L531.7 519.1 L533.0 519.8 L534.4 523.4 L535.7 520.7 L537.1 520.7 L538.4 520.3 L539.7 523.5 L541.1 521.6 L542.4 523.6 L543.8 518.6 L545.1 520.9 L546.4 523.9 L547.8 519.0 L549.1 521.6 L550.5 522.5 L551.8 523.6 L553.1 521.9 L554.5 523.5 L555.8 521.0 L557.2 522.1 L558.5 519.6"/>
<text class="t" text-anchor="middle" transform="translate(237.70 596.00) scale(0.975 1.060)">2485</text>
<text class="t" text-anchor="middle" transform="translate(331.70 596.00) scale(0.975 1.060)">2490</text>
<text class="t" text-anchor="middle" transform="translate(425.70 596.00) scale(0.975 1.060)">2495</text>
<text class="t" text-anchor="middle" transform="translate(520.70 596.00) scale(0.975 1.060)">2500</text>
<text class="t" text-anchor="end" transform="translate(150.00 529.50) scale(0.975 1.060)">40</text>
<text class="t" text-anchor="end" transform="translate(150.00 561.50) scale(0.975 1.060)">20</text>
<text class="t" text-anchor="middle" transform="translate(355.30 472.70) scale(0.985 1.060)">Bin 5</text>
<text class="t" text-anchor="middle" transform="translate(356.50 634.00) scale(1.012 1.060)">Wavenumber [cm<tspan font-size="17" dy="-11.5" dx="0 1">-1</tspan><tspan dy="11.5" dx="0.5">]</tspan></text>
<text class="t" text-anchor="middle" transform="translate(109.50 528.00) rotate(-90) scale(1.012 1.060)">ADU</text>
</g>
<g id="bin6">
<line class="gr" x1="766.5" y1="494" x2="766.5" y2="560"/>
<line class="gr" x1="860.5" y1="494" x2="860.5" y2="560"/>
<line class="gr" x1="955.5" y1="494" x2="955.5" y2="560"/>
<line class="gr" x1="1049.5" y1="494" x2="1049.5" y2="560"/>
<line class="gr" x1="687" y1="512.5" x2="1087" y2="512.5"/>
<line class="gr" x1="687" y1="549.5" x2="1087" y2="549.5"/>
<path class="ax" d="M684.5 493 V561 M684 560.5 H1087"/>
<path class="ax" d="M766.5 561 v-6 M860.5 561 v-6 M955.5 561 v-6 M1049.5 561 v-6 M684 512.5 h5 M684 549.5 h5"/>
<path class="c" stroke="#38dcd6" d="M684.5 559.6 L685.8 560.2 L687.2 559.1 L688.5 559.2 L689.9 558.5 L691.2 557.7 L692.5 557.3 L693.9 556.4 L695.2 556.3 L696.6 555.8 L697.9 555.7 L699.2 554.7 L700.6 554.3 L701.9 554.5 L703.3 553.4 L704.6 554.1 L705.9 552.9 L707.3 552.9 L708.6 551.4 L710.0 552.2 L711.3 552.2 L712.6 551.4 L714.0 549.8 L715.3 549.6 L716.7 549.2 L718.0 547.9 L719.3 548.0 L720.7 547.0 L722.0 545.7 L723.4 546.1 L724.7 544.8 L726.0 545.5 L727.4 545.2 L728.7 546.4 L730.1 546.1 L731.4 544.2 L732.7 544.5 L734.1 542.2 L735.4 542.0 L736.8 542.2 L738.1 539.7 L739.4 538.0 L740.8 537.5 L742.1 537.7 L743.5 537.0 L744.8 535.7 L746.1 535.3 L747.5 534.1 L748.8 534.4 L750.2 534.5 L751.5 533.3 L752.8 534.1 L754.2 532.0 L755.5 532.9 L756.9 531.7 L758.2 532.0 L759.5 530.6 L760.9 531.3 L762.2 531.2 L763.6 529.5 L764.9 529.1 L766.2 529.1 L767.6 526.0 L768.9 529.0 L770.3 525.7 L771.6 524.3 L772.9 523.9 L774.3 523.4 L775.6 521.1 L777.0 521.7 L778.3 523.4 L779.6 522.5 L781.0 525.1 L782.3 523.1 L783.7 520.5 L785.0 521.3 L786.3 519.9 L787.7 520.0 L789.0 519.9 L790.4 517.9 L791.7 521.4 L793.0 521.9 L794.4 519.5 L795.7 519.1 L797.1 516.5 L798.4 514.9 L799.7 516.6 L801.1 512.9 L802.4 516.0 L803.8 514.1 L805.1 516.9 L806.4 514.1 L807.8 516.2 L809.1 516.8 L810.5 512.6 L811.8 513.5 L813.1 514.3 L814.5 510.2 L815.8 510.3 L817.2 507.8 L818.5 509.1 L819.8 506.4 L821.2 510.8 L822.5 507.8 L823.9 504.1 L825.2 507.9 L826.5 506.2 L827.9 505.8 L829.2 508.7 L830.6 504.1 L831.9 508.0 L833.2 506.8 L834.6 504.9 L835.9 504.0 L837.3 505.0 L838.6 504.9 L839.9 506.7 L841.3 507.3 L842.6 505.5 L844.0 503.7 L845.3 507.4 L846.6 498.5 L848.0 504.9 L849.3 499.8 L850.7 503.4 L852.0 504.6 L853.3 502.2 L854.7 504.8 L856.0 503.1 L857.4 504.2 L858.7 504.1 L860.0 502.8 L861.4 500.9 L862.7 501.1 L864.1 496.8 L865.4 501.0 L866.7 498.6 L868.1 500.7 L869.4 500.1 L870.8 498.6 L872.1 498.2 L873.4 501.7 L874.8 499.9 L876.1 499.3 L877.5 503.0 L879.3 502.9 L880.1 500.5 L881.5 502.1 L882.8 498.3 L884.2 498.7 L885.5 497.9 L886.8 497.5 L888.2 498.7 L889.5 495.9 L890.9 499.5 L892.2 498.2 L893.5 494.1 L894.9 497.0 L896.2 495.9 L897.6 498.1 L898.9 500.4 L900.2 496.8 L901.6 496.0 L902.9 501.1 L904.3 496.1 L905.6 498.8 L906.9 498.4 L908.3 496.7 L909.6 492.2 L911.0 494.4 L912.3 494.4 L913.6 494.2 L915.0 495.1 L916.3 493.3 L917.7 494.5 L919.0 495.1 L920.3 494.2 L921.7 494.6 L923.0 495.7 L924.4 495.8 L925.7 496.5 L927.0 497.8 L928.4 495.6 L929.7 498.0 L931.1 497.7 L932.4 498.8 L933.7 498.3 L935.1 502.2 L936.4 499.0 L937.8 499.7 L939.1 500.8 L940.4 495.3 L941.8 500.3 L943.1 494.4 L944.5 497.9 L945.8 494.7 L947.1 498.2 L948.5 493.6 L949.8 497.4 L951.2 497.1 L952.5 501.2 L953.8 499.1 L955.2 501.3 L956.5 498.0 L957.9 501.2 L959.2 498.6 L960.5 496.5 L961.9 496.5 L963.2 498.2 L964.6 501.4 L965.9 498.1 L967.2 498.5 L968.6 499.7 L969.9 502.1 L971.3 499.0 L972.6 503.2 L973.9 498.6 L975.3 503.0 L976.6 501.3 L978.0 501.3 L979.3 499.2 L980.6 499.6 L982.0 495.9 L983.3 499.4 L984.7 500.8 L986.0 504.9 L987.3 507.7 L988.7 503.4 L990.0 504.0 L991.4 503.6 L992.7 503.4 L994.0 503.3 L995.4 502.5 L996.7 497.9 L998.1 502.3 L999.4 501.0 L1000.7 503.2 L1002.1 503.0 L1003.4 505.8 L1004.8 504.9 L1006.1 504.5 L1007.4 500.0 L1008.8 506.4 L1010.1 504.7 L1011.5 506.3 L1012.8 507.7 L1014.1 510.1 L1015.5 511.4 L1016.8 510.7 L1018.2 508.6 L1019.5 510.5 L1020.8 508.3 L1022.2 509.3 L1023.5 511.1 L1024.9 509.3 L1026.2 509.4 L1027.5 509.9 L1028.9 507.8 L1030.2 511.0 L1031.6 514.6 L1032.9 513.8 L1034.2 513.7 L1035.6 511.9 L1036.9 511.1 L1038.3 515.0 L1039.6 514.6 L1040.9 517.7 L1042.3 520.2 L1043.0 516.9 L1044.3 513.4 L1046.4 527.1 L1047.6 521.2 L1049.0 519.4 L1050.3 516.0 L1051.7 520.0 L1053.0 517.2 L1054.3 518.5 L1055.7 517.1 L1057.0 517.1 L1058.4 519.1 L1059.7 521.8 L1061.0 520.8 L1062.4 523.5 L1063.7 521.0 L1065.1 525.4 L1066.4 522.8 L1067.7 522.0 L1069.1 520.5 L1070.4 524.3 L1071.8 523.1 L1073.1 522.8 L1074.4 523.9 L1075.8 523.7 L1077.1 522.5 L1078.5 520.9 L1079.8 524.0 L1081.1 529.1 L1082.5 524.7 L1083.8 524.9 L1085.2 521.5 L1086.5 522.2"/>
<path class="c" stroke="#dc5a20" d="M684.5 559.2 L685.8 559.8 L687.2 558.7 L688.5 558.8 L689.9 558.1 L691.2 557.3 L692.5 556.9 L693.9 556.0 L695.2 555.9 L696.6 555.4 L697.9 555.3 L699.2 554.3 L700.6 553.9 L701.9 554.1 L703.3 553.0 L704.6 553.7 L705.9 552.5 L707.3 552.5 L708.6 551.0 L710.0 551.8 L711.3 551.8 L712.6 551.0 L714.0 549.4 L715.3 549.2 L716.7 548.8 L718.0 547.5 L719.3 547.6 L720.7 546.6 L722.0 545.3 L723.4 545.7 L724.7 544.4 L726.0 545.1 L727.4 544.7 L728.7 546.0 L730.1 545.7 L731.4 543.8 L732.7 544.1 L734.1 541.8 L735.4 541.6 L736.8 541.8 L738.1 539.3 L739.4 537.6 L740.8 537.1 L742.1 537.3 L743.5 536.6 L744.8 535.3 L746.1 534.9 L747.5 533.7 L748.8 534.0 L750.2 534.1 L751.5 532.9 L752.8 533.7 L754.2 531.6 L755.5 532.5 L756.9 531.3 L758.2 531.6 L759.5 530.2 L760.9 530.9 L762.2 530.8 L763.6 529.1 L764.9 528.7 L766.2 528.7 L767.6 525.6 L768.9 528.6 L770.3 525.3 L771.6 523.9 L772.9 523.5 L774.3 523.0 L775.6 520.7 L777.0 521.3 L778.3 523.0 L779.6 522.1 L781.0 524.7 L782.3 522.7 L783.7 520.1 L785.0 520.9 L786.3 519.5 L787.7 519.6 L789.0 519.5 L790.4 517.5 L791.7 521.0 L793.0 521.6 L794.4 519.1 L795.7 518.7 L797.1 516.1 L798.4 514.5 L799.7 516.2 L801.1 512.5 L802.4 515.6 L803.8 513.7 L805.1 516.5 L806.4 513.7 L807.8 515.8 L809.1 516.4 L810.5 512.2 L811.8 513.1 L813.1 513.9 L814.5 509.8 L815.8 509.9 L817.2 507.4 L818.5 508.7 L819.8 506.0 L821.2 510.4 L822.5 507.4 L823.9 503.7 L825.2 507.5 L826.5 505.8 L827.9 505.4 L829.2 508.3 L830.6 503.7 L831.9 507.6 L833.2 506.4 L834.6 504.5 L835.9 503.6 L837.3 504.6 L838.6 504.5 L839.9 506.3 L841.3 506.9 L842.6 505.1 L844.0 503.3 L845.3 507.0 L846.6 498.1 L848.0 504.5 L849.3 499.4 L850.7 503.0 L852.0 504.2 L853.3 501.8 L854.7 504.4 L856.0 502.7 L857.4 503.8 L858.7 503.7 L860.0 502.4 L861.4 500.5 L862.7 500.7 L864.1 496.4 L865.4 500.6 L866.7 498.2 L868.1 500.3 L869.4 499.7 L870.8 498.2 L872.1 497.8 L873.4 501.3 L874.8 499.5 L876.1 498.9 L877.5 502.6 L879.3 502.5 L880.1 500.1 L881.5 501.7 L882.8 497.9 L884.2 498.3 L885.5 497.5 L886.8 497.1 L888.2 498.3 L889.5 495.5 L890.9 499.1 L892.2 497.8 L893.5 493.7 L894.9 496.6 L896.2 495.5 L897.6 497.7 L898.9 500.0 L900.2 496.4 L901.6 495.6 L902.9 500.8 L904.3 495.7 L905.6 498.4 L906.9 498.0 L908.3 496.3 L909.6 491.8 L911.0 494.0 L912.3 494.0 L913.6 493.8 L915.0 494.7 L916.3 492.9 L917.7 494.1 L919.0 494.7 L920.3 493.8 L921.7 494.2 L923.0 495.3 L924.4 495.4 L925.7 496.1 L927.0 497.4 L928.4 495.2 L929.7 497.6 L931.1 497.3 L932.4 498.4 L933.7 497.9 L935.1 501.8 L936.4 498.6 L937.8 499.3 L939.1 500.4 L940.4 494.9 L941.8 499.9 L943.1 494.0 L944.5 497.5 L945.8 494.3 L947.1 497.8 L948.5 493.2 L949.8 497.0 L951.2 496.7 L952.5 500.8 L953.8 498.7 L955.2 500.9 L956.5 497.6 L957.9 500.8 L959.2 498.2 L960.5 496.1 L961.9 496.1 L963.2 497.8 L964.6 501.0 L965.9 497.7 L967.2 498.1 L968.6 499.3 L969.9 501.7 L971.3 498.6 L972.6 502.8 L973.9 498.2 L975.3 502.6 L976.6 500.9 L978.0 500.9 L979.3 498.8 L980.6 499.2 L982.0 495.5 L983.3 499.0 L984.7 500.4 L986.0 504.5 L987.3 507.3 L988.7 503.0 L990.0 503.6 L991.4 503.2 L992.7 503.0 L994.0 502.9 L995.4 502.1 L996.7 497.5 L998.1 501.9 L999.4 500.6 L1000.7 502.8 L1002.1 502.6 L1003.4 505.4 L1004.8 504.5 L1006.1 504.1 L1007.4 499.5 L1008.8 506.0 L1010.1 504.3 L1011.5 505.9 L1012.8 507.3 L1014.1 509.7 L1015.5 511.1 L1016.8 510.3 L1018.2 508.2 L1019.5 510.1 L1020.8 507.9 L1022.2 508.9 L1023.5 510.7 L1024.9 508.9 L1026.2 509.0 L1027.5 509.5 L1028.9 507.4 L1030.2 510.6 L1031.6 514.2 L1032.9 513.4 L1034.2 513.3 L1035.6 511.5 L1036.9 510.7 L1038.3 514.6 L1039.6 514.2 L1040.9 517.3 L1042.3 519.8 L1043.0 516.5 L1044.3 513.0 L1046.4 526.7 L1047.6 520.8 L1049.0 519.0 L1050.3 515.6 L1051.7 519.6 L1053.0 516.8 L1054.3 518.1 L1055.7 516.7 L1057.0 516.7 L1058.4 518.7 L1059.7 521.4 L1061.0 520.4 L1062.4 523.1 L1063.7 520.6 L1065.1 525.0 L1066.4 522.4 L1067.7 521.6 L1069.1 520.1 L1070.4 523.9 L1071.8 522.7 L1073.1 522.4 L1074.4 523.5 L1075.8 523.3 L1077.1 522.1 L1078.5 520.5 L1079.8 523.6 L1081.1 528.7 L1082.5 524.3 L1083.8 524.5 L1085.2 521.1 L1086.5 521.8"/>
<text class="t" text-anchor="middle" transform="translate(765.70 596.00) scale(0.975 1.060)">2485</text>
<text class="t" text-anchor="middle" transform="translate(859.70 596.00) scale(0.975 1.060)">2490</text>
<text class="t" text-anchor="middle" transform="translate(954.70 596.00) scale(0.975 1.060)">2495</text>
<text class="t" text-anchor="middle" transform="translate(1048.70 596.00) scale(0.975 1.060)">2500</text>
<text class="t" text-anchor="end" transform="translate(678.00 523.50) scale(0.975 1.060)">40</text>
<text class="t" text-anchor="end" transform="translate(678.00 560.50) scale(0.975 1.060)">20</text>
<text class="t" text-anchor="middle" transform="translate(883.30 472.70) scale(0.985 1.060)">Bin 6</text>
<text class="t" text-anchor="middle" transform="translate(884.50 634.00) scale(1.012 1.060)">Wavenumber [cm<tspan font-size="17" dy="-11.5" dx="0 1">-1</tspan><tspan dy="11.5" dx="0.5">]</tspan></text>
<text class="t" text-anchor="middle" transform="translate(637.50 528.00) rotate(-90) scale(1.012 1.060)">ADU</text>
</g>
<g id="bin7">
<line class="gr" x1="238.5" y1="694" x2="238.5" y2="757"/>
<line class="gr" x1="332.5" y1="694" x2="332.5" y2="757"/>
<line class="gr" x1="426.5" y1="694" x2="426.5" y2="757"/>
<line class="gr" x1="521.5" y1="694" x2="521.5" y2="757"/>
<line class="gr" x1="159" y1="696.5" x2="559" y2="696.5"/>
<line class="gr" x1="159" y1="718.5" x2="559" y2="718.5"/>
<line class="gr" x1="159" y1="739.5" x2="559" y2="739.5"/>
<path class="ax" d="M156.5 690 V758 M156 757.5 H559"/>
<path class="ax" d="M238.5 758 v-6 M332.5 758 v-6 M426.5 758 v-6 M521.5 758 v-6 M156 696.5 h5 M156 718.5 h5 M156 739.5 h5"/>
<path class="c" stroke="#38dcd6" d="M156.5 756.4 L157.8 755.2 L159.2 755.7 L160.5 754.8 L161.9 755.0 L163.2 754.4 L164.5 754.3 L165.9 753.4 L167.2 752.6 L168.6 752.8 L169.9 752.3 L171.2 751.3 L172.6 750.9 L173.9 749.7 L175.3 749.7 L176.6 749.3 L177.9 748.5 L179.3 747.4 L180.6 747.6 L182.0 746.7 L183.3 747.5 L184.6 745.8 L186.0 746.9 L187.3 746.4 L188.7 747.1 L190.0 745.5 L191.3 745.0 L192.7 743.6 L194.0 740.8 L195.4 740.5 L196.7 739.6 L198.0 739.7 L199.4 738.5 L200.7 738.9 L202.1 737.8 L203.4 738.1 L204.7 737.2 L206.1 737.1 L207.4 735.8 L208.8 735.9 L210.1 734.8 L211.4 734.1 L212.8 734.8 L214.1 732.1 L215.5 733.5 L216.8 731.7 L218.1 732.2 L219.5 730.5 L220.8 731.0 L222.2 728.6 L223.5 729.7 L224.8 728.8 L226.2 728.4 L227.5 728.5 L228.9 728.3 L230.2 725.8 L231.5 727.0 L232.9 726.4 L234.2 724.4 L235.6 724.8 L236.9 724.8 L238.2 722.3 L239.6 723.4 L240.9 722.0 L242.3 720.4 L243.6 721.2 L244.9 718.4 L246.3 718.4 L247.6 718.8 L249.0 716.2 L250.3 718.1 L251.6 719.7 L253.0 717.3 L254.3 718.0 L255.7 718.4 L257.0 715.0 L258.3 714.2 L259.7 715.3 L261.0 713.6 L262.4 716.0 L263.7 715.2 L265.0 714.1 L266.4 715.6 L267.7 713.1 L269.1 713.1 L270.4 710.8 L271.7 712.0 L273.1 709.3 L274.4 709.5 L275.8 711.4 L277.1 711.7 L278.4 709.1 L279.8 711.9 L281.1 709.5 L282.5 709.3 L283.8 712.0 L285.1 708.9 L286.5 708.5 L287.8 708.0 L289.2 707.3 L290.5 706.1 L291.8 703.0 L293.2 703.4 L294.5 703.8 L295.9 700.5 L297.2 702.1 L298.5 704.2 L299.9 704.2 L301.2 704.5 L302.6 704.9 L303.9 701.4 L305.2 704.1 L306.6 702.1 L307.9 700.6 L309.3 703.4 L310.6 699.9 L311.9 702.6 L313.3 699.5 L314.6 700.0 L316.0 700.7 L317.3 699.4 L318.6 700.1 L320.0 700.1 L321.3 697.5 L322.7 699.3 L324.0 700.2 L325.3 699.5 L326.7 701.5 L328.0 702.2 L329.4 697.5 L330.7 696.7 L332.0 701.8 L333.4 698.4 L334.7 697.6 L336.1 699.8 L337.4 698.4 L338.7 700.2 L340.1 699.6 L341.4 695.0 L342.8 698.7 L344.1 695.1 L345.4 697.1 L346.8 695.6 L348.1 698.0 L349.5 700.9 L350.8 702.8 L352.1 697.8 L353.5 701.5 L354.8 699.7 L356.2 695.7 L357.5 694.2 L358.8 693.1 L360.2 694.0 L361.5 693.3 L362.9 691.4 L364.2 695.6 L365.5 697.1 L366.9 694.0 L368.2 696.7 L369.6 694.4 L370.9 694.0 L372.2 694.3 L373.6 692.0 L374.9 697.1 L376.3 692.3 L377.6 694.6 L378.9 693.1 L380.3 694.8 L381.6 693.5 L383.0 694.5 L384.3 691.4 L385.6 692.0 L387.0 693.8 L388.3 694.8 L389.7 693.3 L391.0 695.2 L392.3 697.8 L393.7 697.1 L395.0 700.4 L396.4 695.4 L397.7 695.8 L399.0 696.0 L400.4 692.8 L401.7 695.2 L403.1 697.7 L404.4 695.3 L405.7 692.5 L407.1 697.7 L408.4 695.9 L409.8 699.9 L411.1 695.5 L412.4 695.9 L413.8 698.9 L415.1 694.4 L416.5 696.9 L417.8 694.5 L419.1 695.6 L420.5 695.7 L421.8 694.0 L423.2 695.9 L424.5 695.9 L425.8 699.2 L427.2 702.0 L428.5 696.8 L429.9 699.8 L431.2 696.8 L432.5 698.8 L433.9 695.1 L435.2 697.3 L436.6 701.6 L437.9 701.2 L439.2 698.1 L440.6 699.5 L441.9 698.6 L443.3 699.9 L444.6 697.6 L445.9 699.9 L447.3 700.2 L448.6 701.2 L450.0 695.8 L451.3 698.6 L452.6 698.6 L454.0 700.5 L455.3 698.8 L456.7 700.5 L458.0 698.2 L459.3 700.0 L460.7 701.8 L462.0 698.7 L463.4 704.8 L464.7 700.9 L466.0 701.9 L467.4 706.0 L468.7 703.4 L470.1 704.3 L471.4 701.3 L472.7 699.4 L474.1 704.0 L475.4 702.6 L476.8 705.1 L478.1 703.7 L479.4 708.1 L480.8 705.2 L482.1 706.5 L483.5 703.5 L484.8 703.8 L485.6 702.2 L487.5 709.5 L488.8 708.1 L490.2 707.9 L491.5 707.2 L492.8 706.2 L494.2 708.3 L495.5 706.1 L496.9 710.6 L498.2 709.4 L499.5 711.9 L500.9 711.0 L502.2 712.9 L503.6 712.3 L504.9 709.2 L506.2 712.4 L507.6 711.3 L508.9 713.2 L510.3 713.5 L511.6 716.3 L512.9 713.2 L514.3 716.4 L515.6 715.7 L517.0 720.7 L518.0 720.6 L519.6 719.1 L521.0 713.8 L522.3 716.3 L523.7 714.1 L525.0 716.4 L526.3 716.4 L527.7 718.7 L529.0 717.7 L530.4 721.9 L531.7 718.9 L533.0 721.4 L534.4 718.9 L535.7 720.2 L537.1 722.0 L538.4 721.1 L539.7 720.4 L541.1 719.7 L542.4 720.8 L543.8 720.1 L545.1 722.4 L546.4 723.0 L547.8 726.2 L549.1 725.3 L550.5 723.7 L551.8 725.6 L553.1 724.1 L554.5 725.9 L555.8 726.2 L557.2 722.6 L558.5 723.9"/>
<path class="c" stroke="#dc5a20" d="M156.5 754.6 L157.8 753.4 L159.2 753.9 L160.5 753.0 L161.9 753.2 L163.2 752.6 L164.5 752.5 L165.9 751.6 L167.2 750.8 L168.6 751.0 L169.9 750.5 L171.2 749.5 L172.6 749.1 L173.9 747.9 L175.3 747.9 L176.6 747.5 L177.9 746.7 L179.3 745.6 L180.6 745.8 L182.0 744.9 L183.3 745.7 L184.6 744.0 L186.0 745.1 L187.3 744.6 L188.7 745.4 L190.0 743.7 L191.3 743.2 L192.7 741.8 L194.0 739.0 L195.4 738.7 L196.7 737.8 L198.0 737.9 L199.4 736.7 L200.7 737.1 L202.1 736.0 L203.4 736.3 L204.7 735.4 L206.1 735.3 L207.4 734.0 L208.8 734.1 L210.1 733.0 L211.4 732.3 L212.8 733.0 L214.1 730.3 L215.5 731.7 L216.8 729.9 L218.1 730.4 L219.5 728.7 L220.8 729.2 L222.2 726.8 L223.5 727.9 L224.8 727.0 L226.2 726.5 L227.5 726.7 L228.9 726.5 L230.2 724.0 L231.5 725.2 L232.9 724.6 L234.2 722.6 L235.6 723.0 L236.9 723.0 L238.2 720.5 L239.6 721.6 L240.9 720.2 L242.3 718.6 L243.6 719.4 L244.9 716.6 L246.3 716.6 L247.6 717.0 L249.0 714.4 L250.3 716.3 L251.6 717.9 L253.0 715.5 L254.3 716.2 L255.7 716.6 L257.0 713.2 L258.3 712.4 L259.7 713.5 L261.0 711.8 L262.4 714.2 L263.7 713.4 L265.0 712.3 L266.4 713.8 L267.7 711.3 L269.1 711.3 L270.4 709.0 L271.7 710.2 L273.1 707.5 L274.4 707.7 L275.8 709.6 L277.1 709.9 L278.4 707.2 L279.8 710.2 L281.1 707.6 L282.5 707.5 L283.8 710.2 L285.1 707.0 L286.5 706.7 L287.8 706.2 L289.2 705.5 L290.5 704.3 L291.8 701.2 L293.2 701.5 L294.5 702.0 L295.9 698.7 L297.2 700.3 L298.5 702.4 L299.9 702.4 L301.2 702.7 L302.6 703.1 L303.9 699.6 L305.2 702.3 L306.6 700.3 L307.9 698.8 L309.3 701.6 L310.6 698.1 L311.9 700.9 L313.3 697.7 L314.6 698.2 L316.0 698.9 L317.3 697.6 L318.6 698.3 L320.0 698.3 L321.3 695.7 L322.7 697.5 L324.0 698.4 L325.3 697.7 L326.7 699.7 L328.0 700.4 L329.4 695.7 L330.7 694.8 L332.0 700.0 L333.4 696.6 L334.7 695.7 L336.1 698.0 L337.4 696.6 L338.7 698.4 L340.1 697.8 L341.4 693.1 L342.8 697.0 L344.1 693.3 L345.4 695.3 L346.8 693.8 L348.1 696.2 L349.5 699.1 L350.8 701.0 L352.1 696.0 L353.5 699.7 L354.8 697.9 L356.2 693.9 L357.5 692.4 L358.8 691.3 L360.2 692.2 L361.5 691.5 L362.9 689.6 L364.2 693.8 L365.5 695.3 L366.9 692.2 L368.2 694.9 L369.6 692.6 L370.9 692.2 L372.2 692.5 L373.6 690.2 L374.9 695.4 L376.3 690.5 L377.6 692.8 L378.9 691.3 L380.3 693.0 L381.6 691.7 L383.0 692.7 L384.3 689.5 L385.6 690.2 L387.0 692.0 L388.3 693.1 L389.7 691.5 L391.0 693.4 L392.3 696.0 L393.7 695.2 L395.0 698.6 L396.4 693.6 L397.7 694.0 L399.0 694.2 L400.4 690.9 L401.7 693.4 L403.1 695.9 L404.4 693.5 L405.7 690.7 L407.1 696.0 L408.4 694.1 L409.8 698.2 L411.1 693.7 L412.4 694.0 L413.8 697.2 L415.1 692.6 L416.5 695.1 L417.8 692.6 L419.1 693.8 L420.5 693.9 L421.8 692.2 L423.2 694.1 L424.5 694.1 L425.8 697.4 L427.2 700.2 L428.5 695.0 L429.9 698.0 L431.2 695.0 L432.5 697.1 L433.9 693.3 L435.2 695.5 L436.6 699.8 L437.9 699.4 L439.2 696.3 L440.6 697.7 L441.9 696.8 L443.3 698.1 L444.6 695.8 L445.9 698.1 L447.3 698.4 L448.6 699.5 L450.0 694.0 L451.3 696.8 L452.6 696.8 L454.0 698.7 L455.3 697.0 L456.7 698.7 L458.0 696.4 L459.3 698.2 L460.7 700.0 L462.0 696.9 L463.4 703.0 L464.7 699.1 L466.0 700.1 L467.4 704.2 L468.7 701.6 L470.1 702.5 L471.4 699.5 L472.7 697.6 L474.1 702.2 L475.4 700.8 L476.8 703.3 L478.1 701.9 L479.4 706.3 L480.8 703.4 L482.1 704.7 L483.5 701.6 L484.8 702.0 L485.6 700.4 L487.5 707.7 L488.8 706.3 L490.2 706.1 L491.5 705.4 L492.8 704.4 L494.2 706.5 L495.5 704.3 L496.9 708.8 L498.2 707.6 L499.5 710.1 L500.9 709.2 L502.2 711.1 L503.6 710.5 L504.9 707.4 L506.2 710.6 L507.6 709.5 L508.9 711.4 L510.3 711.7 L511.6 714.5 L512.9 711.4 L514.3 714.6 L515.6 713.9 L517.0 718.9 L518.0 718.8 L519.6 717.3 L521.0 712.0 L522.3 714.5 L523.7 712.3 L525.0 714.6 L526.3 714.6 L527.7 716.9 L529.0 715.9 L530.4 720.1 L531.7 717.1 L533.0 719.6 L534.4 717.1 L535.7 718.4 L537.1 720.2 L538.4 719.3 L539.7 718.6 L541.1 717.9 L542.4 719.0 L543.8 718.2 L545.1 720.6 L546.4 721.2 L547.8 724.5 L549.1 723.5 L550.5 721.8 L551.8 723.8 L553.1 722.3 L554.5 724.1 L555.8 724.4 L557.2 720.8 L558.5 722.1"/>
<text class="t" text-anchor="middle" transform="translate(237.70 793.00) scale(0.975 1.060)">2485</text>
<text class="t" text-anchor="middle" transform="translate(331.70 793.00) scale(0.975 1.060)">2490</text>
<text class="t" text-anchor="middle" transform="translate(425.70 793.00) scale(0.975 1.060)">2495</text>
<text class="t" text-anchor="middle" transform="translate(520.70 793.00) scale(0.975 1.060)">2500</text>
<text class="t" text-anchor="end" transform="translate(150.00 707.50) scale(0.975 1.060)">40</text>
<text class="t" text-anchor="end" transform="translate(150.00 729.50) scale(0.975 1.060)">30</text>
<text class="t" text-anchor="end" transform="translate(150.00 750.50) scale(0.975 1.060)">20</text>
<text class="t" text-anchor="middle" transform="translate(355.30 669.70) scale(0.985 1.060)">Bin 7</text>
<text class="t" text-anchor="middle" transform="translate(356.50 831.00) scale(1.012 1.060)">Wavenumber [cm<tspan font-size="17" dy="-11.5" dx="0 1">-1</tspan><tspan dy="11.5" dx="0.5">]</tspan></text>
<text class="t" text-anchor="middle" transform="translate(109.50 725.00) rotate(-90) scale(1.012 1.060)">ADU</text>
</g>
<g id="bin8">
<line class="gr" x1="766.5" y1="694" x2="766.5" y2="757"/>
<line class="gr" x1="860.5" y1="694" x2="860.5" y2="757"/>
<line class="gr" x1="955.5" y1="694" x2="955.5" y2="757"/>
<line class="gr" x1="1049.5" y1="694" x2="1049.5" y2="757"/>
<line class="gr" x1="687" y1="691.5" x2="1087" y2="691.5"/>
<line class="gr" x1="687" y1="703.5" x2="1087" y2="703.5"/>
<line class="gr" x1="687" y1="716.5" x2="1087" y2="716.5"/>
<line class="gr" x1="687" y1="728.5" x2="1087" y2="728.5"/>
<line class="gr" x1="687" y1="740.5" x2="1087" y2="740.5"/>
<line class="gr" x1="687" y1="752.5" x2="1087" y2="752.5"/>
<path class="ax" d="M684.5 690 V758 M684 757.5 H1087"/>
<path class="ax" d="M766.5 758 v-6 M860.5 758 v-6 M955.5 758 v-6 M1049.5 758 v-6 M684 691.5 h5 M684 703.5 h5 M684 716.5 h5 M684 728.5 h5 M684 740.5 h5 M684 752.5 h5"/>
<path class="c" stroke="#38dcd6" d="M684.5 756.1 L685.8 757.0 L687.2 755.9 L688.5 755.7 L689.9 755.6 L691.2 754.6 L692.5 752.4 L693.9 755.7 L695.2 752.7 L696.6 755.1 L697.9 752.6 L699.2 750.5 L700.6 751.6 L701.9 750.6 L703.3 749.6 L704.6 750.3 L705.9 752.1 L707.3 748.4 L708.6 748.1 L710.0 748.2 L711.3 746.6 L712.6 749.5 L714.0 746.8 L715.3 745.9 L716.7 746.9 L718.0 745.2 L719.3 747.4 L720.7 746.1 L722.0 745.6 L723.4 742.9 L724.7 742.2 L726.0 744.0 L727.4 743.6 L728.7 742.7 L730.1 745.8 L731.4 740.7 L732.7 741.4 L734.1 740.7 L735.4 739.3 L736.8 740.6 L738.1 740.9 L739.4 737.4 L740.8 738.4 L742.1 737.4 L743.5 739.0 L744.8 736.9 L746.1 737.9 L747.5 738.7 L748.8 737.2 L750.2 735.4 L751.5 735.5 L752.8 735.2 L754.2 733.9 L755.5 732.0 L756.9 733.5 L758.2 731.7 L759.5 732.1 L760.9 730.7 L762.2 731.2 L763.6 729.3 L764.9 729.7 L766.2 728.6 L767.6 729.4 L768.9 727.9 L770.3 725.8 L771.6 726.4 L772.9 722.8 L774.3 728.2 L775.6 723.5 L777.0 725.3 L778.3 724.4 L779.6 722.7 L781.0 725.7 L782.3 722.2 L783.7 727.5 L785.0 726.3 L786.3 722.6 L787.7 720.5 L789.0 722.4 L790.4 722.4 L791.7 719.5 L793.0 720.9 L794.4 720.8 L795.7 717.5 L797.1 721.9 L798.4 717.6 L799.7 719.7 L801.1 718.0 L802.4 719.3 L803.8 713.1 L805.1 720.3 L806.4 715.5 L807.8 718.9 L809.1 718.2 L810.5 717.7 L811.8 719.1 L813.1 718.1 L814.5 716.1 L815.8 717.7 L817.2 714.8 L818.5 715.6 L819.8 712.0 L821.2 714.9 L822.5 712.5 L823.9 713.3 L825.2 711.5 L826.5 715.5 L827.9 711.6 L829.2 712.3 L830.6 709.9 L831.9 712.7 L833.2 710.8 L834.6 712.5 L835.9 710.4 L837.3 708.8 L838.6 710.5 L839.9 710.9 L841.3 708.1 L842.6 707.0 L844.0 709.7 L845.3 709.8 L846.6 705.0 L848.0 709.4 L849.3 712.4 L850.7 708.6 L852.0 712.7 L853.3 709.1 L854.7 714.8 L856.0 711.1 L857.4 709.3 L858.7 712.9 L860.0 710.3 L861.4 711.6 L862.7 711.0 L864.1 709.2 L865.4 710.3 L866.7 712.6 L868.1 708.1 L869.4 709.6 L870.8 707.9 L872.1 707.8 L873.4 704.4 L874.8 705.3 L876.1 706.8 L877.5 709.3 L878.8 709.4 L880.1 708.8 L881.5 707.9 L882.8 709.2 L884.2 705.3 L885.5 706.1 L886.8 704.0 L888.2 704.2 L889.5 708.5 L890.9 706.2 L892.2 708.8 L893.5 706.5 L894.9 703.2 L896.2 707.4 L897.6 705.7 L898.9 708.1 L900.2 703.5 L901.6 703.1 L902.9 709.8 L904.3 704.3 L905.6 709.8 L906.9 708.3 L908.3 707.5 L909.6 709.3 L911.0 710.2 L912.3 704.9 L913.6 710.8 L915.0 710.0 L916.3 708.8 L917.7 710.6 L919.0 708.8 L920.3 710.5 L921.7 708.4 L923.0 711.2 L924.4 708.0 L925.7 713.8 L927.0 712.3 L928.4 712.3 L929.7 713.2 L931.1 714.4 L932.4 712.5 L933.7 715.2 L935.1 712.0 L936.4 711.4 L937.8 711.8 L939.1 710.7 L940.4 711.3 L941.8 711.8 L943.1 709.7 L944.5 708.0 L945.8 709.7 L947.1 710.2 L948.5 710.6 L949.8 711.0 L951.2 712.7 L952.5 711.5 L953.8 714.6 L955.2 713.1 L956.5 716.9 L957.9 716.3 L959.2 716.8 L960.5 717.9 L961.9 719.6 L963.2 718.6 L964.6 715.9 L965.9 717.5 L967.2 714.2 L968.6 714.3 L969.9 714.3 L971.3 715.3 L972.6 712.4 L973.9 716.0 L975.3 712.9 L976.6 716.2 L978.0 715.8 L979.3 718.1 L980.6 718.8 L982.0 717.3 L983.3 714.3 L984.7 717.6 L986.0 715.5 L987.3 713.9 L988.7 715.9 L990.0 714.8 L991.4 714.4 L992.7 717.0 L994.0 717.1 L995.4 718.7 L996.7 718.7 L998.1 719.0 L999.4 720.7 L1000.7 718.7 L1002.1 721.4 L1003.4 723.3 L1004.8 719.6 L1006.1 725.2 L1007.4 722.0 L1008.8 724.0 L1010.1 724.7 L1011.5 727.7 L1012.8 723.4 L1014.1 723.3 L1015.5 720.4 L1016.8 721.8 L1018.2 722.0 L1019.5 724.0 L1020.8 721.3 L1022.2 724.7 L1023.5 724.4 L1024.9 723.0 L1026.2 723.3 L1027.5 726.3 L1028.9 724.4 L1030.2 728.3 L1031.6 728.1 L1032.9 730.3 L1034.2 731.6 L1035.6 726.6 L1036.9 727.6 L1038.3 729.1 L1039.6 727.4 L1040.9 728.2 L1042.3 727.1 L1043.6 727.5 L1045.0 729.7 L1046.3 730.5 L1047.6 734.7 L1049.0 732.0 L1050.3 733.1 L1051.7 729.0 L1053.0 734.3 L1054.3 733.2 L1055.7 731.3 L1057.0 734.5 L1058.4 733.7 L1059.7 731.3 L1061.0 734.1 L1062.4 732.2 L1063.7 735.5 L1065.1 732.1 L1066.4 732.9 L1067.7 733.0 L1069.1 735.2 L1070.4 734.2 L1071.8 732.6 L1073.1 737.4 L1074.4 732.9 L1075.8 733.1 L1077.1 735.4 L1078.5 730.9 L1079.8 736.2 L1081.1 733.6 L1082.5 732.8 L1083.8 735.6 L1085.2 732.3 L1086.5 735.5"/>
<path class="c" stroke="#dc5a20" d="M684.5 751.7 L685.8 752.9 L687.2 752.1 L688.5 752.2 L689.9 752.4 L691.2 751.5 L692.5 749.2 L693.9 752.5 L695.2 749.4 L696.6 751.7 L697.9 749.2 L699.2 747.1 L700.6 748.1 L701.9 747.0 L703.3 745.8 L704.6 746.4 L705.9 748.1 L707.3 744.3 L708.6 743.9 L710.0 743.9 L711.3 742.1 L712.6 744.9 L714.0 742.1 L715.3 740.9 L716.7 741.7 L718.0 739.8 L719.3 741.8 L720.7 740.3 L722.0 739.6 L723.4 736.6 L724.7 735.7 L726.0 737.4 L727.4 737.1 L728.7 736.3 L730.1 739.6 L731.4 734.5 L732.7 735.2 L734.1 734.6 L735.4 733.3 L736.8 734.7 L738.1 735.0 L739.4 731.5 L740.8 732.3 L742.1 731.1 L743.5 732.4 L744.8 730.0 L746.1 730.7 L747.5 731.2 L748.8 729.4 L750.2 727.3 L751.5 727.0 L752.8 726.4 L754.2 724.7 L755.5 722.5 L756.9 724.0 L758.2 722.0 L759.5 722.4 L760.9 720.9 L762.2 721.3 L763.6 719.3 L764.9 719.6 L766.2 718.4 L767.6 719.2 L768.9 717.7 L770.3 715.6 L771.6 716.2 L772.9 712.6 L774.3 718.1 L775.6 713.3 L777.0 715.1 L778.3 714.2 L779.6 712.5 L781.0 715.5 L782.3 711.9 L783.7 717.4 L785.0 716.1 L786.3 712.1 L787.7 709.8 L789.0 711.5 L790.4 711.4 L791.7 708.4 L793.0 709.8 L794.4 709.7 L795.7 706.3 L797.1 710.9 L798.4 706.2 L799.7 708.2 L801.1 706.3 L802.4 707.5 L803.8 701.1 L805.1 708.5 L806.4 703.5 L807.8 707.0 L809.1 706.2 L810.5 705.7 L811.8 707.2 L813.1 706.1 L814.5 703.8 L815.8 705.3 L817.2 702.2 L818.5 703.1 L819.8 700.1 L821.2 703.7 L822.5 702.0 L823.9 702.8 L825.2 699.8 L826.5 703.0 L827.9 698.6 L829.2 699.4 L830.6 696.9 L831.9 699.8 L833.2 697.8 L834.6 699.6 L835.9 697.5 L837.3 695.7 L838.6 697.4 L839.9 697.8 L841.3 694.8 L842.6 693.6 L844.0 696.8 L845.3 696.9 L846.6 691.5 L848.0 695.8 L849.3 698.6 L850.7 695.0 L852.0 699.9 L853.3 696.7 L854.7 702.8 L856.0 698.9 L857.4 696.8 L858.7 700.5 L860.0 697.8 L861.4 699.0 L862.7 698.2 L864.1 696.3 L865.4 697.4 L866.7 699.8 L868.1 695.0 L869.4 696.6 L870.8 694.7 L872.1 694.6 L873.4 691.1 L874.8 692.1 L876.1 693.7 L877.5 696.4 L878.8 696.5 L880.1 696.0 L881.5 695.1 L882.8 696.5 L884.2 692.7 L885.5 693.8 L886.8 691.8 L888.2 692.4 L889.5 696.6 L890.9 693.9 L892.2 696.3 L893.5 693.5 L894.9 689.8 L896.2 693.8 L897.6 691.7 L898.9 693.9 L900.2 688.8 L901.6 688.5 L902.9 695.6 L904.3 689.9 L905.6 695.8 L906.9 694.3 L908.3 693.6 L909.6 695.5 L911.0 696.5 L912.3 690.9 L913.6 697.1 L915.0 696.3 L916.3 695.0 L917.7 696.9 L919.0 695.1 L920.3 696.8 L921.7 694.6 L923.0 697.6 L924.4 694.2 L925.7 700.2 L927.0 698.7 L928.4 698.6 L929.7 699.6 L931.1 700.8 L932.4 698.7 L933.7 701.5 L935.1 698.0 L936.4 697.2 L937.8 697.5 L939.1 696.2 L940.4 696.7 L941.8 697.1 L943.1 694.8 L944.5 693.0 L945.8 694.7 L947.1 695.4 L948.5 695.7 L949.8 696.1 L951.2 698.0 L952.5 696.8 L953.8 699.9 L955.2 697.8 L956.5 701.3 L957.9 700.1 L959.2 700.1 L960.5 701.4 L961.9 706.4 L963.2 705.6 L964.6 702.7 L965.9 704.4 L967.2 700.8 L968.6 700.9 L969.9 700.9 L971.3 701.8 L972.6 698.7 L973.9 702.5 L975.3 699.4 L976.6 703.0 L978.0 702.7 L979.3 705.3 L980.6 706.0 L982.0 704.2 L983.3 701.0 L984.7 704.3 L986.0 702.0 L987.3 700.2 L988.7 702.3 L990.0 701.3 L991.4 701.0 L992.7 703.9 L994.0 704.2 L995.4 706.0 L996.7 706.2 L998.1 706.7 L999.4 708.6 L1000.7 706.5 L1002.1 708.5 L1003.4 709.9 L1004.8 705.2 L1006.1 710.7 L1007.4 708.1 L1008.8 711.1 L1010.1 712.7 L1011.5 715.7 L1012.8 711.1 L1014.1 710.8 L1015.5 707.6 L1016.8 709.1 L1018.2 709.3 L1019.5 711.6 L1020.8 708.9 L1022.2 712.5 L1023.5 712.3 L1024.9 711.0 L1026.2 711.4 L1027.5 714.7 L1028.9 712.7 L1030.2 717.0 L1031.6 716.8 L1032.9 719.2 L1034.2 720.5 L1035.6 715.4 L1036.9 716.5 L1038.3 718.0 L1039.6 716.3 L1040.9 717.1 L1042.3 716.2 L1043.6 716.7 L1045.0 719.1 L1046.3 720.0 L1047.6 724.5 L1049.0 720.7 L1050.3 718.1 L1051.7 714.4 L1053.0 720.8 L1054.3 720.6 L1055.7 719.5 L1057.0 723.7 L1058.4 723.7 L1059.7 720.7 L1061.0 723.1 L1062.4 720.7 L1063.7 723.7 L1065.1 720.8 L1066.4 722.2 L1067.7 722.9 L1069.1 725.7 L1070.4 725.2 L1071.8 723.4 L1073.1 728.3 L1074.4 723.6 L1075.8 723.6 L1077.1 725.9 L1078.5 721.0 L1079.8 726.6 L1081.1 723.9 L1082.5 723.1 L1083.8 725.9 L1085.2 722.6 L1086.5 725.9"/>
<text class="t" text-anchor="middle" transform="translate(765.70 793.00) scale(0.975 1.060)">2485</text>
<text class="t" text-anchor="middle" transform="translate(859.70 793.00) scale(0.975 1.060)">2490</text>
<text class="t" text-anchor="middle" transform="translate(954.70 793.00) scale(0.975 1.060)">2495</text>
<text class="t" text-anchor="middle" transform="translate(1048.70 793.00) scale(0.975 1.060)">2500</text>
<text class="t" text-anchor="end" transform="translate(678.00 702.50) scale(0.975 1.060)">14</text>
<text class="t" text-anchor="end" transform="translate(678.00 714.50) scale(0.975 1.060)">12</text>
<text class="t" text-anchor="end" transform="translate(678.00 727.50) scale(0.975 1.060)">10</text>
<text class="t" text-anchor="end" transform="translate(678.00 739.50) scale(0.975 1.060)">8</text>
<text class="t" text-anchor="end" transform="translate(678.00 751.50) scale(0.975 1.060)">6</text>
<text class="t" text-anchor="end" transform="translate(678.00 763.50) scale(0.975 1.060)">4</text>
<text class="t" text-anchor="middle" transform="translate(883.30 669.70) scale(0.985 1.060)">Bin 8</text>
<text class="t" text-anchor="middle" transform="translate(884.50 831.00) scale(1.012 1.060)">Wavenumber [cm<tspan font-size="17" dy="-11.5" dx="0 1">-1</tspan><tspan dy="11.5" dx="0.5">]</tspan></text>
<text class="t" text-anchor="middle" transform="translate(637.50 725.00) rotate(-90) scale(1.012 1.060)">ADU</text>
</g>
</svg></body></html>
